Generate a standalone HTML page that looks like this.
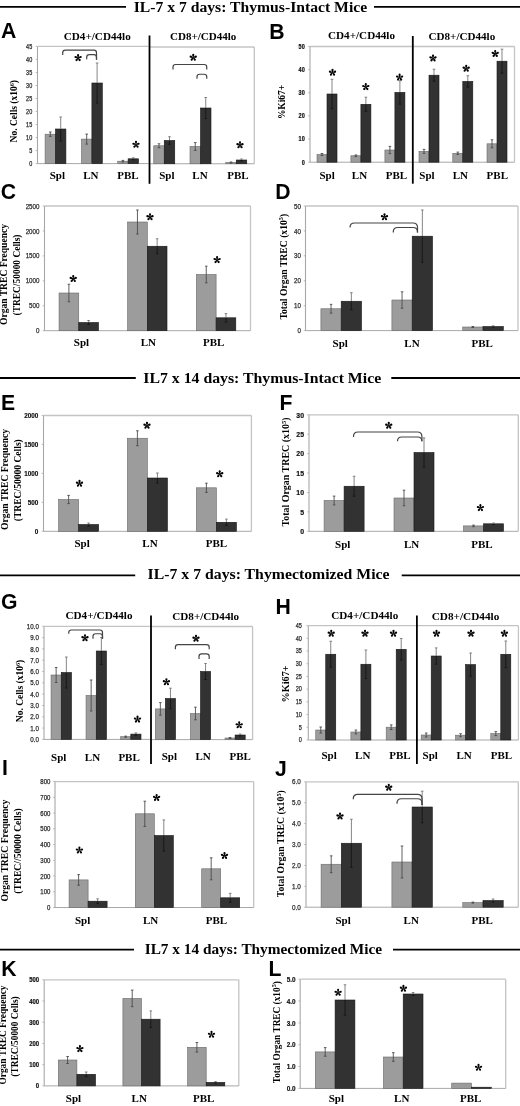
<!DOCTYPE html>
<html><head><meta charset="utf-8"><title>Figure</title>
<style>
html,body{margin:0;padding:0;background:#fff;width:520px;height:1106px;overflow:hidden;}
svg{display:block;will-change:transform;}
</style></head>
<body>
<svg width="520" height="1106" viewBox="0 0 520 1106">
<rect x="0" y="0" width="520" height="1106" fill="#fff"/>
<line x1="0" y1="6.8" x2="126" y2="6.8" stroke="#000" stroke-width="1.8"/>
<text x="133.7" y="12.1" font-family='"Liberation Serif", serif' font-size="14.6" font-weight="bold" text-anchor="start" fill="#000" textLength="233.5" lengthAdjust="spacingAndGlyphs">IL-7 x 7 days: Thymus-Intact Mice</text>
<line x1="374" y1="6.8" x2="520" y2="6.8" stroke="#000" stroke-width="1.8"/>
<line x1="0" y1="378" x2="135.8" y2="378" stroke="#000" stroke-width="1.8"/>
<text x="143.3" y="382.9" font-family='"Liberation Serif", serif' font-size="14.6" font-weight="bold" text-anchor="start" fill="#000" textLength="237.9" lengthAdjust="spacingAndGlyphs">IL7 x 14 days: Thymus-Intact Mice</text>
<line x1="391.3" y1="378" x2="520" y2="378" stroke="#000" stroke-width="1.8"/>
<line x1="0" y1="575.4" x2="135.2" y2="575.4" stroke="#000" stroke-width="1.8"/>
<text x="147.6" y="579.4" font-family='"Liberation Serif", serif' font-size="14.6" font-weight="bold" text-anchor="start" fill="#000" textLength="242" lengthAdjust="spacingAndGlyphs">IL-7 x 7 days: Thymectomized Mice</text>
<line x1="401.7" y1="575.4" x2="520" y2="575.4" stroke="#000" stroke-width="1.8"/>
<line x1="0" y1="949.6" x2="134" y2="949.6" stroke="#000" stroke-width="1.8"/>
<text x="144.7" y="953.7" font-family='"Liberation Serif", serif' font-size="14.6" font-weight="bold" text-anchor="start" fill="#000" textLength="237.4" lengthAdjust="spacingAndGlyphs">IL7 x 14 days: Thymectomized Mice</text>
<line x1="393" y1="949.6" x2="520" y2="949.6" stroke="#000" stroke-width="1.8"/>
<text x="1" y="38.1" font-family='"Liberation Sans", sans-serif' font-size="21.2" font-weight="bold" text-anchor="start" fill="#000">A</text>
<text x="269.2" y="39.2" font-family='"Liberation Sans", sans-serif' font-size="21.2" font-weight="bold" text-anchor="start" fill="#000">B</text>
<text x="0.8" y="199.3" font-family='"Liberation Sans", sans-serif' font-size="21.2" font-weight="bold" text-anchor="start" fill="#000">C</text>
<text x="275.2" y="199.2" font-family='"Liberation Sans", sans-serif' font-size="21.2" font-weight="bold" text-anchor="start" fill="#000">D</text>
<text x="0.9" y="410.4" font-family='"Liberation Sans", sans-serif' font-size="21.2" font-weight="bold" text-anchor="start" fill="#000">E</text>
<text x="279.5" y="409.6" font-family='"Liberation Sans", sans-serif' font-size="21.2" font-weight="bold" text-anchor="start" fill="#000">F</text>
<text x="0.9" y="608.5" font-family='"Liberation Sans", sans-serif' font-size="21.2" font-weight="bold" text-anchor="start" fill="#000">G</text>
<text x="275.4" y="614" font-family='"Liberation Sans", sans-serif' font-size="21.2" font-weight="bold" text-anchor="start" fill="#000">H</text>
<text x="2" y="774.8" font-family='"Liberation Sans", sans-serif' font-size="21.2" font-weight="bold" text-anchor="start" fill="#000">I</text>
<text x="275" y="776" font-family='"Liberation Sans", sans-serif' font-size="21.2" font-weight="bold" text-anchor="start" fill="#000">J</text>
<text x="1.2" y="976.2" font-family='"Liberation Sans", sans-serif' font-size="21.2" font-weight="bold" text-anchor="start" fill="#000">K</text>
<text x="268.6" y="976.2" font-family='"Liberation Sans", sans-serif' font-size="21.2" font-weight="bold" text-anchor="start" fill="#000">L</text>
<line x1="37.5" y1="46.4" x2="37.5" y2="163.6" stroke="#a8a8a8" stroke-width="1.1"/>
<line x1="35.7" y1="163.6" x2="37.5" y2="163.6" stroke="#a8a8a8" stroke-width="0.8"/>
<text x="32.2" y="165.9" font-family='"Liberation Sans", sans-serif' font-size="6.4" font-weight="normal" text-anchor="end" fill="#2a2a2a" textLength="3.06" lengthAdjust="spacingAndGlyphs" stroke="#2a2a2a" stroke-width="0.25">0</text>
<line x1="35.7" y1="150.58" x2="37.5" y2="150.58" stroke="#a8a8a8" stroke-width="0.8"/>
<text x="32.2" y="152.88" font-family='"Liberation Sans", sans-serif' font-size="6.4" font-weight="normal" text-anchor="end" fill="#2a2a2a" textLength="3.06" lengthAdjust="spacingAndGlyphs" stroke="#2a2a2a" stroke-width="0.25">5</text>
<line x1="35.7" y1="137.56" x2="37.5" y2="137.56" stroke="#a8a8a8" stroke-width="0.8"/>
<text x="32.2" y="139.86" font-family='"Liberation Sans", sans-serif' font-size="6.4" font-weight="normal" text-anchor="end" fill="#2a2a2a" textLength="6.12" lengthAdjust="spacingAndGlyphs" stroke="#2a2a2a" stroke-width="0.25">10</text>
<line x1="35.7" y1="124.53" x2="37.5" y2="124.53" stroke="#a8a8a8" stroke-width="0.8"/>
<text x="32.2" y="126.84" font-family='"Liberation Sans", sans-serif' font-size="6.4" font-weight="normal" text-anchor="end" fill="#2a2a2a" textLength="6.12" lengthAdjust="spacingAndGlyphs" stroke="#2a2a2a" stroke-width="0.25">15</text>
<line x1="35.7" y1="111.51" x2="37.5" y2="111.51" stroke="#a8a8a8" stroke-width="0.8"/>
<text x="32.2" y="113.82" font-family='"Liberation Sans", sans-serif' font-size="6.4" font-weight="normal" text-anchor="end" fill="#2a2a2a" textLength="6.12" lengthAdjust="spacingAndGlyphs" stroke="#2a2a2a" stroke-width="0.25">20</text>
<line x1="35.7" y1="98.49" x2="37.5" y2="98.49" stroke="#a8a8a8" stroke-width="0.8"/>
<text x="32.2" y="100.79" font-family='"Liberation Sans", sans-serif' font-size="6.4" font-weight="normal" text-anchor="end" fill="#2a2a2a" textLength="6.12" lengthAdjust="spacingAndGlyphs" stroke="#2a2a2a" stroke-width="0.25">25</text>
<line x1="35.7" y1="85.47" x2="37.5" y2="85.47" stroke="#a8a8a8" stroke-width="0.8"/>
<text x="32.2" y="87.77" font-family='"Liberation Sans", sans-serif' font-size="6.4" font-weight="normal" text-anchor="end" fill="#2a2a2a" textLength="6.12" lengthAdjust="spacingAndGlyphs" stroke="#2a2a2a" stroke-width="0.25">30</text>
<line x1="35.7" y1="72.44" x2="37.5" y2="72.44" stroke="#a8a8a8" stroke-width="0.8"/>
<text x="32.2" y="74.75" font-family='"Liberation Sans", sans-serif' font-size="6.4" font-weight="normal" text-anchor="end" fill="#2a2a2a" textLength="6.12" lengthAdjust="spacingAndGlyphs" stroke="#2a2a2a" stroke-width="0.25">35</text>
<line x1="35.7" y1="59.42" x2="37.5" y2="59.42" stroke="#a8a8a8" stroke-width="0.8"/>
<text x="32.2" y="61.73" font-family='"Liberation Sans", sans-serif' font-size="6.4" font-weight="normal" text-anchor="end" fill="#2a2a2a" textLength="6.12" lengthAdjust="spacingAndGlyphs" stroke="#2a2a2a" stroke-width="0.25">40</text>
<line x1="35.7" y1="46.4" x2="37.5" y2="46.4" stroke="#a8a8a8" stroke-width="0.8"/>
<text x="32.2" y="48.7" font-family='"Liberation Sans", sans-serif' font-size="6.4" font-weight="normal" text-anchor="end" fill="#2a2a2a" textLength="6.12" lengthAdjust="spacingAndGlyphs" stroke="#2a2a2a" stroke-width="0.25">45</text>
<line x1="37.5" y1="46.4" x2="148.5" y2="46.4" stroke="#c4c4c4" stroke-width="1.3"/>
<line x1="37.5" y1="163.6" x2="148.5" y2="163.6" stroke="#a8a8a8" stroke-width="1"/>
<rect x="45.1" y="134.2" width="10.4" height="29.4" fill="#9c9c9c" stroke="#6a6a6a" stroke-width="0.6"/>
<rect x="55.5" y="129" width="10.4" height="34.6" fill="#323232" stroke="#151515" stroke-width="0.6"/>
<line x1="50.3" y1="132" x2="50.3" y2="134.2" stroke="#444" stroke-width="0.85"/>
<line x1="50.3" y1="134.2" x2="50.3" y2="136.4" stroke="#474747" stroke-width="0.85"/>
<line x1="49" y1="132" x2="51.6" y2="132" stroke="#444" stroke-width="0.85"/>
<line x1="49" y1="136.4" x2="51.6" y2="136.4" stroke="#474747" stroke-width="0.85"/>
<line x1="60.7" y1="117" x2="60.7" y2="129" stroke="#707070" stroke-width="0.85"/>
<line x1="60.7" y1="129" x2="60.7" y2="141" stroke="#141414" stroke-width="0.85"/>
<line x1="59.4" y1="117" x2="62" y2="117" stroke="#707070" stroke-width="0.85"/>
<line x1="59.4" y1="141" x2="62" y2="141" stroke="#141414" stroke-width="0.85"/>
<rect x="81.5" y="139.1" width="10.4" height="24.5" fill="#9c9c9c" stroke="#6a6a6a" stroke-width="0.6"/>
<rect x="91.9" y="83" width="10.4" height="80.6" fill="#323232" stroke="#151515" stroke-width="0.6"/>
<line x1="86.7" y1="134.1" x2="86.7" y2="139.1" stroke="#444" stroke-width="0.85"/>
<line x1="86.7" y1="139.1" x2="86.7" y2="144.1" stroke="#474747" stroke-width="0.85"/>
<line x1="85.4" y1="134.1" x2="88" y2="134.1" stroke="#444" stroke-width="0.85"/>
<line x1="85.4" y1="144.1" x2="88" y2="144.1" stroke="#474747" stroke-width="0.85"/>
<line x1="97.1" y1="63" x2="97.1" y2="83" stroke="#707070" stroke-width="0.85"/>
<line x1="97.1" y1="83" x2="97.1" y2="103" stroke="#141414" stroke-width="0.85"/>
<line x1="95.8" y1="63" x2="98.4" y2="63" stroke="#707070" stroke-width="0.85"/>
<line x1="95.8" y1="103" x2="98.4" y2="103" stroke="#141414" stroke-width="0.85"/>
<rect x="117.7" y="161.2" width="10.4" height="2.4" fill="#9c9c9c" stroke="#6a6a6a" stroke-width="0.6"/>
<rect x="128.1" y="158.8" width="10.4" height="4.8" fill="#323232" stroke="#151515" stroke-width="0.6"/>
<line x1="122.9" y1="160.4" x2="122.9" y2="161.2" stroke="#444" stroke-width="0.85"/>
<line x1="122.9" y1="161.2" x2="122.9" y2="162" stroke="#474747" stroke-width="0.85"/>
<line x1="121.6" y1="160.4" x2="124.2" y2="160.4" stroke="#444" stroke-width="0.85"/>
<line x1="121.6" y1="162" x2="124.2" y2="162" stroke="#474747" stroke-width="0.85"/>
<line x1="133.3" y1="157.8" x2="133.3" y2="158.8" stroke="#707070" stroke-width="0.85"/>
<line x1="133.3" y1="158.8" x2="133.3" y2="159.8" stroke="#141414" stroke-width="0.85"/>
<line x1="132" y1="157.8" x2="134.6" y2="157.8" stroke="#707070" stroke-width="0.85"/>
<line x1="132" y1="159.8" x2="134.6" y2="159.8" stroke="#141414" stroke-width="0.85"/>
<path d="M62.7 55 L62.7 52.8 Q62.7 50.2 65.3 50.2 L93.9 50.2 Q96.5 50.2 96.5 52.8 L96.5 59.8" fill="none" stroke="#444444" stroke-width="1.2"/>
<path d="M86.7 59.3 L86.7 57.3 Q86.7 54.7 89.3 54.7 L93.9 54.7 Q96.5 54.7 96.5 57.3 L96.5 59.8" fill="none" stroke="#444444" stroke-width="1.2"/>
<g fill="#000"><path d="M78.38 57.9 L79.08 55.52 L77.12 55.52 L77.82 57.9 Z"/><circle cx="78.1" cy="55.15" r="1.05"/><path d="M78.19 58.17 L80.67 58.09 L80.06 56.24 L78.01 57.63 Z"/><circle cx="80.72" cy="57.05" r="1.05"/><path d="M77.87 58.06 L78.71 60.4 L80.29 59.25 L78.33 57.74 Z"/><circle cx="79.72" cy="60.12" r="1.05"/><path d="M77.87 57.74 L75.91 59.25 L77.49 60.4 L78.33 58.06 Z"/><circle cx="76.48" cy="60.12" r="1.05"/><path d="M78.19 57.63 L76.14 56.24 L75.53 58.09 L78.01 58.17 Z"/><circle cx="75.48" cy="57.05" r="1.05"/></g>
<g fill="#000"><path d="M136.28 144.6 L136.98 142.22 L135.02 142.22 L135.72 144.6 Z"/><circle cx="136" cy="141.85" r="1.05"/><path d="M136.09 144.87 L138.57 144.79 L137.96 142.94 L135.91 144.33 Z"/><circle cx="138.62" cy="143.75" r="1.05"/><path d="M135.77 144.76 L136.61 147.1 L138.19 145.95 L136.23 144.44 Z"/><circle cx="137.62" cy="146.82" r="1.05"/><path d="M135.77 144.44 L133.81 145.95 L135.39 147.1 L136.23 144.76 Z"/><circle cx="134.38" cy="146.82" r="1.05"/><path d="M136.09 144.33 L134.04 142.94 L133.43 144.79 L135.91 144.87 Z"/><circle cx="133.38" cy="143.75" r="1.05"/></g>
<text x="63.75" y="40.3" font-family='"Liberation Serif", serif' font-size="11.4" font-weight="bold" text-anchor="start" fill="#000" textLength="67" lengthAdjust="spacingAndGlyphs">CD4+/CD44lo</text>
<text x="57.3" y="179" font-family='"Liberation Serif", serif' font-size="11" font-weight="bold" text-anchor="middle" fill="#000">Spl</text>
<text x="90.9" y="179" font-family='"Liberation Serif", serif' font-size="11" font-weight="bold" text-anchor="middle" fill="#000">LN</text>
<text x="127.9" y="179" font-family='"Liberation Serif", serif' font-size="11" font-weight="bold" text-anchor="middle" fill="#000">PBL</text>
<text transform="translate(17.14 111.2) rotate(-90)" x="0" y="0" font-family='"Liberation Serif", serif' font-size="9.5" font-weight="bold" text-anchor="middle" fill="#000">No. Cells (x10<tspan font-size="65%" dy="-3.2">6</tspan><tspan dy="3.2">)</tspan></text>
<line x1="149.5" y1="47" x2="254.3" y2="47" stroke="#c4c4c4" stroke-width="1.3"/>
<line x1="254.3" y1="47" x2="254.3" y2="163.75" stroke="#c4c4c4" stroke-width="1.3"/>
<line x1="149.5" y1="163.75" x2="254.3" y2="163.75" stroke="#a8a8a8" stroke-width="1"/>
<rect x="153.75" y="145.75" width="10.5" height="18" fill="#9c9c9c" stroke="#6a6a6a" stroke-width="0.6"/>
<rect x="164.25" y="140.5" width="10.5" height="23.25" fill="#323232" stroke="#151515" stroke-width="0.6"/>
<line x1="159" y1="143.75" x2="159" y2="145.75" stroke="#444" stroke-width="0.85"/>
<line x1="159" y1="145.75" x2="159" y2="147.75" stroke="#474747" stroke-width="0.85"/>
<line x1="157.7" y1="143.75" x2="160.3" y2="143.75" stroke="#444" stroke-width="0.85"/>
<line x1="157.7" y1="147.75" x2="160.3" y2="147.75" stroke="#474747" stroke-width="0.85"/>
<line x1="169.5" y1="136.75" x2="169.5" y2="140.5" stroke="#707070" stroke-width="0.85"/>
<line x1="169.5" y1="140.5" x2="169.5" y2="144.25" stroke="#141414" stroke-width="0.85"/>
<line x1="168.2" y1="136.75" x2="170.8" y2="136.75" stroke="#707070" stroke-width="0.85"/>
<line x1="168.2" y1="144.25" x2="170.8" y2="144.25" stroke="#141414" stroke-width="0.85"/>
<rect x="190" y="146.5" width="10.5" height="17.25" fill="#9c9c9c" stroke="#6a6a6a" stroke-width="0.6"/>
<rect x="200.5" y="108" width="10.5" height="55.75" fill="#323232" stroke="#151515" stroke-width="0.6"/>
<line x1="195.25" y1="142.6" x2="195.25" y2="146.5" stroke="#444" stroke-width="0.85"/>
<line x1="195.25" y1="146.5" x2="195.25" y2="150.4" stroke="#474747" stroke-width="0.85"/>
<line x1="193.95" y1="142.6" x2="196.55" y2="142.6" stroke="#444" stroke-width="0.85"/>
<line x1="193.95" y1="150.4" x2="196.55" y2="150.4" stroke="#474747" stroke-width="0.85"/>
<line x1="205.75" y1="97.5" x2="205.75" y2="108" stroke="#707070" stroke-width="0.85"/>
<line x1="205.75" y1="108" x2="205.75" y2="118.5" stroke="#141414" stroke-width="0.85"/>
<line x1="204.45" y1="97.5" x2="207.05" y2="97.5" stroke="#707070" stroke-width="0.85"/>
<line x1="204.45" y1="118.5" x2="207.05" y2="118.5" stroke="#141414" stroke-width="0.85"/>
<rect x="225.75" y="162.5" width="10.5" height="1.25" fill="#9c9c9c" stroke="#6a6a6a" stroke-width="0.6"/>
<rect x="236.25" y="160" width="10.5" height="3.75" fill="#323232" stroke="#151515" stroke-width="0.6"/>
<line x1="231" y1="162" x2="231" y2="162.5" stroke="#444" stroke-width="0.85"/>
<line x1="231" y1="162.5" x2="231" y2="163" stroke="#474747" stroke-width="0.85"/>
<line x1="229.7" y1="162" x2="232.3" y2="162" stroke="#444" stroke-width="0.85"/>
<line x1="229.7" y1="163" x2="232.3" y2="163" stroke="#474747" stroke-width="0.85"/>
<line x1="241.5" y1="159" x2="241.5" y2="160" stroke="#707070" stroke-width="0.85"/>
<line x1="241.5" y1="160" x2="241.5" y2="161" stroke="#141414" stroke-width="0.85"/>
<line x1="240.2" y1="159" x2="242.8" y2="159" stroke="#707070" stroke-width="0.85"/>
<line x1="240.2" y1="161" x2="242.8" y2="161" stroke="#141414" stroke-width="0.85"/>
<path d="M173 69.5 L173 67.1 Q173 64.5 175.6 64.5 L204.15 64.5 Q206.75 64.5 206.75 67.1 L206.75 69.5" fill="none" stroke="#444444" stroke-width="1.2"/>
<path d="M197 78.75 L197 76.85 Q197 74.25 199.6 74.25 L204.15 74.25 Q206.75 74.25 206.75 76.85 L206.75 78.75" fill="none" stroke="#444444" stroke-width="1.2"/>
<g fill="#000"><path d="M193.53 57.5 L194.23 55.12 L192.27 55.12 L192.97 57.5 Z"/><circle cx="193.25" cy="54.75" r="1.05"/><path d="M193.34 57.77 L195.82 57.69 L195.21 55.84 L193.16 57.23 Z"/><circle cx="195.87" cy="56.65" r="1.05"/><path d="M193.02 57.66 L193.86 60 L195.44 58.85 L193.48 57.34 Z"/><circle cx="194.87" cy="59.72" r="1.05"/><path d="M193.02 57.34 L191.06 58.85 L192.64 60 L193.48 57.66 Z"/><circle cx="191.63" cy="59.72" r="1.05"/><path d="M193.34 57.23 L191.29 55.84 L190.68 57.69 L193.16 57.77 Z"/><circle cx="190.63" cy="56.65" r="1.05"/></g>
<g fill="#000"><path d="M240.28 145 L240.98 142.62 L239.02 142.62 L239.72 145 Z"/><circle cx="240" cy="142.25" r="1.05"/><path d="M240.09 145.27 L242.57 145.19 L241.96 143.34 L239.91 144.73 Z"/><circle cx="242.62" cy="144.15" r="1.05"/><path d="M239.77 145.16 L240.61 147.5 L242.19 146.35 L240.23 144.84 Z"/><circle cx="241.62" cy="147.22" r="1.05"/><path d="M239.77 144.84 L237.81 146.35 L239.39 147.5 L240.23 145.16 Z"/><circle cx="238.38" cy="147.22" r="1.05"/><path d="M240.09 144.73 L238.04 143.34 L237.43 145.19 L239.91 145.27 Z"/><circle cx="237.38" cy="144.15" r="1.05"/></g>
<text x="170" y="39.8" font-family='"Liberation Serif", serif' font-size="11.4" font-weight="bold" text-anchor="start" fill="#000" textLength="66.3" lengthAdjust="spacingAndGlyphs">CD8+/CD44lo</text>
<text x="166.8" y="178.8" font-family='"Liberation Serif", serif' font-size="11" font-weight="bold" text-anchor="middle" fill="#000">Spl</text>
<text x="200" y="178.8" font-family='"Liberation Serif", serif' font-size="11" font-weight="bold" text-anchor="middle" fill="#000">LN</text>
<text x="238" y="178.8" font-family='"Liberation Serif", serif' font-size="11" font-weight="bold" text-anchor="middle" fill="#000">PBL</text>
<line x1="149.5" y1="35.5" x2="149.5" y2="183.8" stroke="#000" stroke-width="1.8"/>
<line x1="310" y1="46.5" x2="310" y2="162.2" stroke="#a8a8a8" stroke-width="1.1"/>
<line x1="308.2" y1="162.2" x2="310" y2="162.2" stroke="#a8a8a8" stroke-width="0.8"/>
<text x="304.7" y="164.5" font-family='"Liberation Sans", sans-serif' font-size="6.4" font-weight="bold" text-anchor="end" fill="#111" textLength="3.06" lengthAdjust="spacingAndGlyphs" stroke="#111" stroke-width="0.2">0</text>
<line x1="308.2" y1="139.06" x2="310" y2="139.06" stroke="#a8a8a8" stroke-width="0.8"/>
<text x="304.7" y="141.36" font-family='"Liberation Sans", sans-serif' font-size="6.4" font-weight="bold" text-anchor="end" fill="#111" textLength="6.12" lengthAdjust="spacingAndGlyphs" stroke="#111" stroke-width="0.2">10</text>
<line x1="308.2" y1="115.92" x2="310" y2="115.92" stroke="#a8a8a8" stroke-width="0.8"/>
<text x="304.7" y="118.22" font-family='"Liberation Sans", sans-serif' font-size="6.4" font-weight="bold" text-anchor="end" fill="#111" textLength="6.12" lengthAdjust="spacingAndGlyphs" stroke="#111" stroke-width="0.2">20</text>
<line x1="308.2" y1="92.78" x2="310" y2="92.78" stroke="#a8a8a8" stroke-width="0.8"/>
<text x="304.7" y="95.08" font-family='"Liberation Sans", sans-serif' font-size="6.4" font-weight="bold" text-anchor="end" fill="#111" textLength="6.12" lengthAdjust="spacingAndGlyphs" stroke="#111" stroke-width="0.2">30</text>
<line x1="308.2" y1="69.64" x2="310" y2="69.64" stroke="#a8a8a8" stroke-width="0.8"/>
<text x="304.7" y="71.94" font-family='"Liberation Sans", sans-serif' font-size="6.4" font-weight="bold" text-anchor="end" fill="#111" textLength="6.12" lengthAdjust="spacingAndGlyphs" stroke="#111" stroke-width="0.2">40</text>
<line x1="308.2" y1="46.5" x2="310" y2="46.5" stroke="#a8a8a8" stroke-width="0.8"/>
<text x="304.7" y="48.8" font-family='"Liberation Sans", sans-serif' font-size="6.4" font-weight="bold" text-anchor="end" fill="#111" textLength="6.12" lengthAdjust="spacingAndGlyphs" stroke="#111" stroke-width="0.2">50</text>
<line x1="310" y1="46.5" x2="514.5" y2="46.5" stroke="#c4c4c4" stroke-width="1.3"/>
<line x1="514.5" y1="46.5" x2="514.5" y2="162.2" stroke="#c4c4c4" stroke-width="1.3"/>
<line x1="310" y1="162.2" x2="514.5" y2="162.2" stroke="#a8a8a8" stroke-width="1"/>
<rect x="317" y="154.5" width="10" height="7.7" fill="#9c9c9c" stroke="#6a6a6a" stroke-width="0.6"/>
<rect x="327" y="94" width="10" height="68.2" fill="#323232" stroke="#151515" stroke-width="0.6"/>
<line x1="322" y1="153.5" x2="322" y2="154.5" stroke="#444" stroke-width="0.85"/>
<line x1="322" y1="154.5" x2="322" y2="155.5" stroke="#474747" stroke-width="0.85"/>
<line x1="320.7" y1="153.5" x2="323.3" y2="153.5" stroke="#444" stroke-width="0.85"/>
<line x1="320.7" y1="155.5" x2="323.3" y2="155.5" stroke="#474747" stroke-width="0.85"/>
<line x1="332" y1="79.3" x2="332" y2="94" stroke="#707070" stroke-width="0.85"/>
<line x1="332" y1="94" x2="332" y2="108.7" stroke="#141414" stroke-width="0.85"/>
<line x1="330.7" y1="79.3" x2="333.3" y2="79.3" stroke="#707070" stroke-width="0.85"/>
<line x1="330.7" y1="108.7" x2="333.3" y2="108.7" stroke="#141414" stroke-width="0.85"/>
<rect x="350.9" y="155.75" width="10" height="6.45" fill="#9c9c9c" stroke="#6a6a6a" stroke-width="0.6"/>
<rect x="360.9" y="104.3" width="10" height="57.9" fill="#323232" stroke="#151515" stroke-width="0.6"/>
<line x1="355.9" y1="154.95" x2="355.9" y2="155.75" stroke="#444" stroke-width="0.85"/>
<line x1="355.9" y1="155.75" x2="355.9" y2="156.55" stroke="#474747" stroke-width="0.85"/>
<line x1="354.6" y1="154.95" x2="357.2" y2="154.95" stroke="#444" stroke-width="0.85"/>
<line x1="354.6" y1="156.55" x2="357.2" y2="156.55" stroke="#474747" stroke-width="0.85"/>
<line x1="365.9" y1="97.2" x2="365.9" y2="104.3" stroke="#707070" stroke-width="0.85"/>
<line x1="365.9" y1="104.3" x2="365.9" y2="111.4" stroke="#141414" stroke-width="0.85"/>
<line x1="364.6" y1="97.2" x2="367.2" y2="97.2" stroke="#707070" stroke-width="0.85"/>
<line x1="364.6" y1="111.4" x2="367.2" y2="111.4" stroke="#141414" stroke-width="0.85"/>
<rect x="384.9" y="150" width="10" height="12.2" fill="#9c9c9c" stroke="#6a6a6a" stroke-width="0.6"/>
<rect x="394.9" y="92.4" width="10" height="69.8" fill="#323232" stroke="#151515" stroke-width="0.6"/>
<line x1="389.9" y1="146.4" x2="389.9" y2="150" stroke="#444" stroke-width="0.85"/>
<line x1="389.9" y1="150" x2="389.9" y2="153.6" stroke="#474747" stroke-width="0.85"/>
<line x1="388.6" y1="146.4" x2="391.2" y2="146.4" stroke="#444" stroke-width="0.85"/>
<line x1="388.6" y1="153.6" x2="391.2" y2="153.6" stroke="#474747" stroke-width="0.85"/>
<line x1="399.9" y1="80.7" x2="399.9" y2="92.4" stroke="#707070" stroke-width="0.85"/>
<line x1="399.9" y1="92.4" x2="399.9" y2="104.1" stroke="#141414" stroke-width="0.85"/>
<line x1="398.6" y1="80.7" x2="401.2" y2="80.7" stroke="#707070" stroke-width="0.85"/>
<line x1="398.6" y1="104.1" x2="401.2" y2="104.1" stroke="#141414" stroke-width="0.85"/>
<rect x="419" y="151.4" width="10" height="10.8" fill="#9c9c9c" stroke="#6a6a6a" stroke-width="0.6"/>
<rect x="429" y="75.2" width="10" height="87" fill="#323232" stroke="#151515" stroke-width="0.6"/>
<line x1="424" y1="149.4" x2="424" y2="151.4" stroke="#444" stroke-width="0.85"/>
<line x1="424" y1="151.4" x2="424" y2="153.4" stroke="#474747" stroke-width="0.85"/>
<line x1="422.7" y1="149.4" x2="425.3" y2="149.4" stroke="#444" stroke-width="0.85"/>
<line x1="422.7" y1="153.4" x2="425.3" y2="153.4" stroke="#474747" stroke-width="0.85"/>
<line x1="434" y1="69.2" x2="434" y2="75.2" stroke="#707070" stroke-width="0.85"/>
<line x1="434" y1="75.2" x2="434" y2="81.2" stroke="#141414" stroke-width="0.85"/>
<line x1="432.7" y1="69.2" x2="435.3" y2="69.2" stroke="#707070" stroke-width="0.85"/>
<line x1="432.7" y1="81.2" x2="435.3" y2="81.2" stroke="#141414" stroke-width="0.85"/>
<rect x="452.8" y="153.3" width="10" height="8.9" fill="#9c9c9c" stroke="#6a6a6a" stroke-width="0.6"/>
<rect x="462.8" y="81.4" width="10" height="80.8" fill="#323232" stroke="#151515" stroke-width="0.6"/>
<line x1="457.8" y1="152.1" x2="457.8" y2="153.3" stroke="#444" stroke-width="0.85"/>
<line x1="457.8" y1="153.3" x2="457.8" y2="154.5" stroke="#474747" stroke-width="0.85"/>
<line x1="456.5" y1="152.1" x2="459.1" y2="152.1" stroke="#444" stroke-width="0.85"/>
<line x1="456.5" y1="154.5" x2="459.1" y2="154.5" stroke="#474747" stroke-width="0.85"/>
<line x1="467.8" y1="75.7" x2="467.8" y2="81.4" stroke="#707070" stroke-width="0.85"/>
<line x1="467.8" y1="81.4" x2="467.8" y2="87.1" stroke="#141414" stroke-width="0.85"/>
<line x1="466.5" y1="75.7" x2="469.1" y2="75.7" stroke="#707070" stroke-width="0.85"/>
<line x1="466.5" y1="87.1" x2="469.1" y2="87.1" stroke="#141414" stroke-width="0.85"/>
<rect x="487" y="143.8" width="10" height="18.4" fill="#9c9c9c" stroke="#6a6a6a" stroke-width="0.6"/>
<rect x="497" y="61.2" width="10" height="101" fill="#323232" stroke="#151515" stroke-width="0.6"/>
<line x1="492" y1="139.8" x2="492" y2="143.8" stroke="#444" stroke-width="0.85"/>
<line x1="492" y1="143.8" x2="492" y2="147.8" stroke="#474747" stroke-width="0.85"/>
<line x1="490.7" y1="139.8" x2="493.3" y2="139.8" stroke="#444" stroke-width="0.85"/>
<line x1="490.7" y1="147.8" x2="493.3" y2="147.8" stroke="#474747" stroke-width="0.85"/>
<line x1="502" y1="49.2" x2="502" y2="61.2" stroke="#707070" stroke-width="0.85"/>
<line x1="502" y1="61.2" x2="502" y2="73.2" stroke="#141414" stroke-width="0.85"/>
<line x1="500.7" y1="49.2" x2="503.3" y2="49.2" stroke="#707070" stroke-width="0.85"/>
<line x1="500.7" y1="73.2" x2="503.3" y2="73.2" stroke="#141414" stroke-width="0.85"/>
<g fill="#000"><path d="M332.78 72.5 L333.48 70.12 L331.52 70.12 L332.22 72.5 Z"/><circle cx="332.5" cy="69.75" r="1.05"/><path d="M332.59 72.77 L335.07 72.69 L334.46 70.84 L332.41 72.23 Z"/><circle cx="335.12" cy="71.65" r="1.05"/><path d="M332.27 72.66 L333.11 75 L334.69 73.85 L332.73 72.34 Z"/><circle cx="334.12" cy="74.72" r="1.05"/><path d="M332.27 72.34 L330.31 73.85 L331.89 75 L332.73 72.66 Z"/><circle cx="330.88" cy="74.72" r="1.05"/><path d="M332.59 72.23 L330.54 70.84 L329.93 72.69 L332.41 72.77 Z"/><circle cx="329.88" cy="71.65" r="1.05"/></g>
<g fill="#000"><path d="M366.08 86.9 L366.78 84.52 L364.82 84.52 L365.52 86.9 Z"/><circle cx="365.8" cy="84.15" r="1.05"/><path d="M365.89 87.17 L368.37 87.09 L367.76 85.24 L365.71 86.63 Z"/><circle cx="368.42" cy="86.05" r="1.05"/><path d="M365.57 87.06 L366.41 89.4 L367.99 88.25 L366.03 86.74 Z"/><circle cx="367.42" cy="89.12" r="1.05"/><path d="M365.57 86.74 L363.61 88.25 L365.19 89.4 L366.03 87.06 Z"/><circle cx="364.18" cy="89.12" r="1.05"/><path d="M365.89 86.63 L363.84 85.24 L363.23 87.09 L365.71 87.17 Z"/><circle cx="363.18" cy="86.05" r="1.05"/></g>
<g fill="#000"><path d="M399.88 77.4 L400.58 75.02 L398.62 75.02 L399.32 77.4 Z"/><circle cx="399.6" cy="74.65" r="1.05"/><path d="M399.69 77.67 L402.17 77.59 L401.56 75.74 L399.51 77.13 Z"/><circle cx="402.22" cy="76.55" r="1.05"/><path d="M399.37 77.56 L400.21 79.9 L401.79 78.75 L399.83 77.24 Z"/><circle cx="401.22" cy="79.62" r="1.05"/><path d="M399.37 77.24 L397.41 78.75 L398.99 79.9 L399.83 77.56 Z"/><circle cx="397.98" cy="79.62" r="1.05"/><path d="M399.69 77.13 L397.64 75.74 L397.03 77.59 L399.51 77.67 Z"/><circle cx="396.98" cy="76.55" r="1.05"/></g>
<g fill="#000"><path d="M433.28 58.2 L433.98 55.82 L432.02 55.82 L432.72 58.2 Z"/><circle cx="433" cy="55.45" r="1.05"/><path d="M433.09 58.47 L435.57 58.39 L434.96 56.54 L432.91 57.93 Z"/><circle cx="435.62" cy="57.35" r="1.05"/><path d="M432.77 58.36 L433.61 60.7 L435.19 59.55 L433.23 58.04 Z"/><circle cx="434.62" cy="60.42" r="1.05"/><path d="M432.77 58.04 L430.81 59.55 L432.39 60.7 L433.23 58.36 Z"/><circle cx="431.38" cy="60.42" r="1.05"/><path d="M433.09 57.93 L431.04 56.54 L430.43 58.39 L432.91 58.47 Z"/><circle cx="430.38" cy="57.35" r="1.05"/></g>
<g fill="#000"><path d="M466.48 68.5 L467.18 66.12 L465.22 66.12 L465.92 68.5 Z"/><circle cx="466.2" cy="65.75" r="1.05"/><path d="M466.29 68.77 L468.77 68.69 L468.16 66.84 L466.11 68.23 Z"/><circle cx="468.82" cy="67.65" r="1.05"/><path d="M465.97 68.66 L466.81 71 L468.39 69.85 L466.43 68.34 Z"/><circle cx="467.82" cy="70.72" r="1.05"/><path d="M465.97 68.34 L464.01 69.85 L465.59 71 L466.43 68.66 Z"/><circle cx="464.58" cy="70.72" r="1.05"/><path d="M466.29 68.23 L464.24 66.84 L463.63 68.69 L466.11 68.77 Z"/><circle cx="463.58" cy="67.65" r="1.05"/></g>
<g fill="#000"><path d="M495.48 53.7 L496.18 51.32 L494.22 51.32 L494.92 53.7 Z"/><circle cx="495.2" cy="50.95" r="1.05"/><path d="M495.29 53.97 L497.77 53.89 L497.16 52.04 L495.11 53.43 Z"/><circle cx="497.82" cy="52.85" r="1.05"/><path d="M494.97 53.86 L495.81 56.2 L497.39 55.05 L495.43 53.54 Z"/><circle cx="496.82" cy="55.92" r="1.05"/><path d="M494.97 53.54 L493.01 55.05 L494.59 56.2 L495.43 53.86 Z"/><circle cx="493.58" cy="55.92" r="1.05"/><path d="M495.29 53.43 L493.24 52.04 L492.63 53.89 L495.11 53.97 Z"/><circle cx="492.58" cy="52.85" r="1.05"/></g>
<text x="328" y="39.4" font-family='"Liberation Serif", serif' font-size="11.4" font-weight="bold" text-anchor="start" fill="#000" textLength="67" lengthAdjust="spacingAndGlyphs">CD4+/CD44lo</text>
<text x="428.5" y="40" font-family='"Liberation Serif", serif' font-size="11.4" font-weight="bold" text-anchor="start" fill="#000" textLength="66.7" lengthAdjust="spacingAndGlyphs">CD8+/CD44lo</text>
<text x="327.1" y="179.3" font-family='"Liberation Serif", serif' font-size="11" font-weight="bold" text-anchor="middle" fill="#000">Spl</text>
<text x="359.5" y="179.3" font-family='"Liberation Serif", serif' font-size="11" font-weight="bold" text-anchor="middle" fill="#000">LN</text>
<text x="396.4" y="179.3" font-family='"Liberation Serif", serif' font-size="11" font-weight="bold" text-anchor="middle" fill="#000">PBL</text>
<text x="427" y="179.3" font-family='"Liberation Serif", serif' font-size="11" font-weight="bold" text-anchor="middle" fill="#000">Spl</text>
<text x="460.4" y="179.3" font-family='"Liberation Serif", serif' font-size="11" font-weight="bold" text-anchor="middle" fill="#000">LN</text>
<text x="497.3" y="179.3" font-family='"Liberation Serif", serif' font-size="11" font-weight="bold" text-anchor="middle" fill="#000">PBL</text>
<text transform="translate(285.17 102) rotate(-90)" x="0" y="0" font-family='"Liberation Serif", serif' font-size="9.6" font-weight="bold" text-anchor="middle" fill="#000" textLength="34.2" lengthAdjust="spacingAndGlyphs">%Ki67+</text>
<line x1="412.8" y1="36" x2="412.8" y2="183.7" stroke="#000" stroke-width="1.8"/>
<line x1="44.5" y1="206" x2="44.5" y2="330.7" stroke="#a8a8a8" stroke-width="1.1"/>
<line x1="42.7" y1="330.7" x2="44.5" y2="330.7" stroke="#a8a8a8" stroke-width="0.8"/>
<text x="39.4" y="333.29" font-family='"Liberation Sans", sans-serif' font-size="7.2" font-weight="normal" text-anchor="end" fill="#2a2a2a" textLength="3.44" lengthAdjust="spacingAndGlyphs" stroke="#2a2a2a" stroke-width="0.25">0</text>
<line x1="42.7" y1="305.76" x2="44.5" y2="305.76" stroke="#a8a8a8" stroke-width="0.8"/>
<text x="39.4" y="308.35" font-family='"Liberation Sans", sans-serif' font-size="7.2" font-weight="normal" text-anchor="end" fill="#2a2a2a" textLength="10.33" lengthAdjust="spacingAndGlyphs" stroke="#2a2a2a" stroke-width="0.25">500</text>
<line x1="42.7" y1="280.82" x2="44.5" y2="280.82" stroke="#a8a8a8" stroke-width="0.8"/>
<text x="39.4" y="283.41" font-family='"Liberation Sans", sans-serif' font-size="7.2" font-weight="normal" text-anchor="end" fill="#2a2a2a" textLength="13.77" lengthAdjust="spacingAndGlyphs" stroke="#2a2a2a" stroke-width="0.25">1000</text>
<line x1="42.7" y1="255.88" x2="44.5" y2="255.88" stroke="#a8a8a8" stroke-width="0.8"/>
<text x="39.4" y="258.47" font-family='"Liberation Sans", sans-serif' font-size="7.2" font-weight="normal" text-anchor="end" fill="#2a2a2a" textLength="13.77" lengthAdjust="spacingAndGlyphs" stroke="#2a2a2a" stroke-width="0.25">1500</text>
<line x1="42.7" y1="230.94" x2="44.5" y2="230.94" stroke="#a8a8a8" stroke-width="0.8"/>
<text x="39.4" y="233.53" font-family='"Liberation Sans", sans-serif' font-size="7.2" font-weight="normal" text-anchor="end" fill="#2a2a2a" textLength="13.77" lengthAdjust="spacingAndGlyphs" stroke="#2a2a2a" stroke-width="0.25">2000</text>
<line x1="42.7" y1="206" x2="44.5" y2="206" stroke="#a8a8a8" stroke-width="0.8"/>
<text x="39.4" y="208.59" font-family='"Liberation Sans", sans-serif' font-size="7.2" font-weight="normal" text-anchor="end" fill="#2a2a2a" textLength="13.77" lengthAdjust="spacingAndGlyphs" stroke="#2a2a2a" stroke-width="0.25">2500</text>
<line x1="44.5" y1="206" x2="250.5" y2="206" stroke="#c4c4c4" stroke-width="1.3"/>
<line x1="250.5" y1="206" x2="250.5" y2="330.7" stroke="#c4c4c4" stroke-width="1.3"/>
<line x1="44.5" y1="330.7" x2="250.5" y2="330.7" stroke="#a8a8a8" stroke-width="1"/>
<rect x="59.05" y="293" width="19.7" height="37.7" fill="#9c9c9c" stroke="#6a6a6a" stroke-width="0.6"/>
<rect x="78.75" y="322.5" width="19.7" height="8.2" fill="#323232" stroke="#151515" stroke-width="0.6"/>
<line x1="68.9" y1="284.25" x2="68.9" y2="293" stroke="#444" stroke-width="0.85"/>
<line x1="68.9" y1="293" x2="68.9" y2="301.75" stroke="#474747" stroke-width="0.85"/>
<line x1="67.6" y1="284.25" x2="70.2" y2="284.25" stroke="#444" stroke-width="0.85"/>
<line x1="67.6" y1="301.75" x2="70.2" y2="301.75" stroke="#474747" stroke-width="0.85"/>
<line x1="88.6" y1="320.5" x2="88.6" y2="322.5" stroke="#707070" stroke-width="0.85"/>
<line x1="88.6" y1="322.5" x2="88.6" y2="324.5" stroke="#141414" stroke-width="0.85"/>
<line x1="87.3" y1="320.5" x2="89.9" y2="320.5" stroke="#707070" stroke-width="0.85"/>
<line x1="87.3" y1="324.5" x2="89.9" y2="324.5" stroke="#141414" stroke-width="0.85"/>
<rect x="127.6" y="222" width="19.7" height="108.7" fill="#9c9c9c" stroke="#6a6a6a" stroke-width="0.6"/>
<rect x="147.3" y="246.25" width="19.7" height="84.45" fill="#323232" stroke="#151515" stroke-width="0.6"/>
<line x1="137.45" y1="210" x2="137.45" y2="222" stroke="#444" stroke-width="0.85"/>
<line x1="137.45" y1="222" x2="137.45" y2="234" stroke="#474747" stroke-width="0.85"/>
<line x1="136.15" y1="210" x2="138.75" y2="210" stroke="#444" stroke-width="0.85"/>
<line x1="136.15" y1="234" x2="138.75" y2="234" stroke="#474747" stroke-width="0.85"/>
<line x1="157.15" y1="238.75" x2="157.15" y2="246.25" stroke="#707070" stroke-width="0.85"/>
<line x1="157.15" y1="246.25" x2="157.15" y2="253.75" stroke="#141414" stroke-width="0.85"/>
<line x1="155.85" y1="238.75" x2="158.45" y2="238.75" stroke="#707070" stroke-width="0.85"/>
<line x1="155.85" y1="253.75" x2="158.45" y2="253.75" stroke="#141414" stroke-width="0.85"/>
<rect x="196.4" y="274.5" width="19.7" height="56.2" fill="#9c9c9c" stroke="#6a6a6a" stroke-width="0.6"/>
<rect x="216.1" y="317.8" width="19.7" height="12.9" fill="#323232" stroke="#151515" stroke-width="0.6"/>
<line x1="206.25" y1="266.2" x2="206.25" y2="274.5" stroke="#444" stroke-width="0.85"/>
<line x1="206.25" y1="274.5" x2="206.25" y2="282.8" stroke="#474747" stroke-width="0.85"/>
<line x1="204.95" y1="266.2" x2="207.55" y2="266.2" stroke="#444" stroke-width="0.85"/>
<line x1="204.95" y1="282.8" x2="207.55" y2="282.8" stroke="#474747" stroke-width="0.85"/>
<line x1="225.95" y1="313.6" x2="225.95" y2="317.8" stroke="#707070" stroke-width="0.85"/>
<line x1="225.95" y1="317.8" x2="225.95" y2="322" stroke="#141414" stroke-width="0.85"/>
<line x1="224.65" y1="313.6" x2="227.25" y2="313.6" stroke="#707070" stroke-width="0.85"/>
<line x1="224.65" y1="322" x2="227.25" y2="322" stroke="#141414" stroke-width="0.85"/>
<g fill="#000"><path d="M73.53 278.75 L74.23 276.37 L72.27 276.37 L72.97 278.75 Z"/><circle cx="73.25" cy="276" r="1.05"/><path d="M73.34 279.02 L75.82 278.94 L75.21 277.09 L73.16 278.48 Z"/><circle cx="75.87" cy="277.9" r="1.05"/><path d="M73.02 278.91 L73.86 281.25 L75.44 280.1 L73.48 278.59 Z"/><circle cx="74.87" cy="280.97" r="1.05"/><path d="M73.02 278.59 L71.06 280.1 L72.64 281.25 L73.48 278.91 Z"/><circle cx="71.63" cy="280.97" r="1.05"/><path d="M73.34 278.48 L71.29 277.09 L70.68 278.94 L73.16 279.02 Z"/><circle cx="70.63" cy="277.9" r="1.05"/></g>
<g fill="#000"><path d="M150.28 217 L150.98 214.62 L149.02 214.62 L149.72 217 Z"/><circle cx="150" cy="214.25" r="1.05"/><path d="M150.09 217.27 L152.57 217.19 L151.96 215.34 L149.91 216.73 Z"/><circle cx="152.62" cy="216.15" r="1.05"/><path d="M149.77 217.16 L150.61 219.5 L152.19 218.35 L150.23 216.84 Z"/><circle cx="151.62" cy="219.22" r="1.05"/><path d="M149.77 216.84 L147.81 218.35 L149.39 219.5 L150.23 217.16 Z"/><circle cx="148.38" cy="219.22" r="1.05"/><path d="M150.09 216.73 L148.04 215.34 L147.43 217.19 L149.91 217.27 Z"/><circle cx="147.38" cy="216.15" r="1.05"/></g>
<g fill="#000"><path d="M217.38 259.9 L218.08 257.52 L216.12 257.52 L216.82 259.9 Z"/><circle cx="217.1" cy="257.15" r="1.05"/><path d="M217.19 260.17 L219.67 260.09 L219.06 258.24 L217.01 259.63 Z"/><circle cx="219.72" cy="259.05" r="1.05"/><path d="M216.87 260.06 L217.71 262.4 L219.29 261.25 L217.33 259.74 Z"/><circle cx="218.72" cy="262.12" r="1.05"/><path d="M216.87 259.74 L214.91 261.25 L216.49 262.4 L217.33 260.06 Z"/><circle cx="215.48" cy="262.12" r="1.05"/><path d="M217.19 259.63 L215.14 258.24 L214.53 260.09 L217.01 260.17 Z"/><circle cx="214.48" cy="259.05" r="1.05"/></g>
<text x="81.5" y="346.2" font-family='"Liberation Serif", serif' font-size="11" font-weight="bold" text-anchor="middle" fill="#000">Spl</text>
<text x="148.4" y="346.2" font-family='"Liberation Serif", serif' font-size="11" font-weight="bold" text-anchor="middle" fill="#000">LN</text>
<text x="213.75" y="346.2" font-family='"Liberation Serif", serif' font-size="11" font-weight="bold" text-anchor="middle" fill="#000">PBL</text>
<text transform="translate(7 274.5) rotate(-90)" x="0" y="0" font-family='"Liberation Serif", serif' font-size="9.4" font-weight="bold" text-anchor="middle" fill="#000" textLength="101" lengthAdjust="spacingAndGlyphs">Organ TREC Frequency</text>
<text transform="translate(20.4 275) rotate(-90)" x="0" y="0" font-family='"Liberation Serif", serif' font-size="9.4" font-weight="bold" text-anchor="middle" fill="#000" textLength="81" lengthAdjust="spacingAndGlyphs">(TREC/50000 Cells)</text>
<line x1="305.5" y1="206" x2="305.5" y2="330.6" stroke="#a8a8a8" stroke-width="1.1"/>
<line x1="303.7" y1="330.6" x2="305.5" y2="330.6" stroke="#a8a8a8" stroke-width="0.8"/>
<text x="301" y="333.19" font-family='"Liberation Sans", sans-serif' font-size="7.2" font-weight="normal" text-anchor="end" fill="#2a2a2a" textLength="3.44" lengthAdjust="spacingAndGlyphs" stroke="#2a2a2a" stroke-width="0.25">0</text>
<line x1="303.7" y1="305.68" x2="305.5" y2="305.68" stroke="#a8a8a8" stroke-width="0.8"/>
<text x="301" y="308.27" font-family='"Liberation Sans", sans-serif' font-size="7.2" font-weight="normal" text-anchor="end" fill="#2a2a2a" textLength="6.89" lengthAdjust="spacingAndGlyphs" stroke="#2a2a2a" stroke-width="0.25">10</text>
<line x1="303.7" y1="280.76" x2="305.5" y2="280.76" stroke="#a8a8a8" stroke-width="0.8"/>
<text x="301" y="283.35" font-family='"Liberation Sans", sans-serif' font-size="7.2" font-weight="normal" text-anchor="end" fill="#2a2a2a" textLength="6.89" lengthAdjust="spacingAndGlyphs" stroke="#2a2a2a" stroke-width="0.25">20</text>
<line x1="303.7" y1="255.84" x2="305.5" y2="255.84" stroke="#a8a8a8" stroke-width="0.8"/>
<text x="301" y="258.43" font-family='"Liberation Sans", sans-serif' font-size="7.2" font-weight="normal" text-anchor="end" fill="#2a2a2a" textLength="6.89" lengthAdjust="spacingAndGlyphs" stroke="#2a2a2a" stroke-width="0.25">30</text>
<line x1="303.7" y1="230.92" x2="305.5" y2="230.92" stroke="#a8a8a8" stroke-width="0.8"/>
<text x="301" y="233.51" font-family='"Liberation Sans", sans-serif' font-size="7.2" font-weight="normal" text-anchor="end" fill="#2a2a2a" textLength="6.89" lengthAdjust="spacingAndGlyphs" stroke="#2a2a2a" stroke-width="0.25">40</text>
<line x1="303.7" y1="206" x2="305.5" y2="206" stroke="#a8a8a8" stroke-width="0.8"/>
<text x="301" y="208.59" font-family='"Liberation Sans", sans-serif' font-size="7.2" font-weight="normal" text-anchor="end" fill="#2a2a2a" textLength="6.89" lengthAdjust="spacingAndGlyphs" stroke="#2a2a2a" stroke-width="0.25">50</text>
<line x1="305.5" y1="206" x2="518" y2="206" stroke="#c4c4c4" stroke-width="1.3"/>
<line x1="518" y1="206" x2="518" y2="330.6" stroke="#c4c4c4" stroke-width="1.3"/>
<line x1="305.5" y1="330.6" x2="518" y2="330.6" stroke="#a8a8a8" stroke-width="1"/>
<rect x="320.9" y="308.75" width="20.3" height="21.85" fill="#9c9c9c" stroke="#6a6a6a" stroke-width="0.6"/>
<rect x="341.2" y="301.25" width="20.3" height="29.35" fill="#323232" stroke="#151515" stroke-width="0.6"/>
<line x1="331.05" y1="304.35" x2="331.05" y2="308.75" stroke="#444" stroke-width="0.85"/>
<line x1="331.05" y1="308.75" x2="331.05" y2="313.15" stroke="#474747" stroke-width="0.85"/>
<line x1="329.75" y1="304.35" x2="332.35" y2="304.35" stroke="#444" stroke-width="0.85"/>
<line x1="329.75" y1="313.15" x2="332.35" y2="313.15" stroke="#474747" stroke-width="0.85"/>
<line x1="351.35" y1="292.75" x2="351.35" y2="301.25" stroke="#707070" stroke-width="0.85"/>
<line x1="351.35" y1="301.25" x2="351.35" y2="309.75" stroke="#141414" stroke-width="0.85"/>
<line x1="350.05" y1="292.75" x2="352.65" y2="292.75" stroke="#707070" stroke-width="0.85"/>
<line x1="350.05" y1="309.75" x2="352.65" y2="309.75" stroke="#141414" stroke-width="0.85"/>
<rect x="391.9" y="300" width="20.3" height="30.6" fill="#9c9c9c" stroke="#6a6a6a" stroke-width="0.6"/>
<rect x="412.2" y="236.2" width="20.3" height="94.4" fill="#323232" stroke="#151515" stroke-width="0.6"/>
<line x1="402.05" y1="291.8" x2="402.05" y2="300" stroke="#444" stroke-width="0.85"/>
<line x1="402.05" y1="300" x2="402.05" y2="308.2" stroke="#474747" stroke-width="0.85"/>
<line x1="400.75" y1="291.8" x2="403.35" y2="291.8" stroke="#444" stroke-width="0.85"/>
<line x1="400.75" y1="308.2" x2="403.35" y2="308.2" stroke="#474747" stroke-width="0.85"/>
<line x1="422.35" y1="210" x2="422.35" y2="236.2" stroke="#707070" stroke-width="0.85"/>
<line x1="422.35" y1="236.2" x2="422.35" y2="262.4" stroke="#141414" stroke-width="0.85"/>
<line x1="421.05" y1="210" x2="423.65" y2="210" stroke="#707070" stroke-width="0.85"/>
<line x1="421.05" y1="262.4" x2="423.65" y2="262.4" stroke="#141414" stroke-width="0.85"/>
<rect x="462.7" y="327" width="20.3" height="3.6" fill="#9c9c9c" stroke="#6a6a6a" stroke-width="0.6"/>
<rect x="483" y="326.5" width="20.3" height="4.1" fill="#323232" stroke="#151515" stroke-width="0.6"/>
<line x1="472.85" y1="326.5" x2="472.85" y2="327" stroke="#444" stroke-width="0.85"/>
<line x1="472.85" y1="327" x2="472.85" y2="327.5" stroke="#474747" stroke-width="0.85"/>
<line x1="471.55" y1="326.5" x2="474.15" y2="326.5" stroke="#444" stroke-width="0.85"/>
<line x1="471.55" y1="327.5" x2="474.15" y2="327.5" stroke="#474747" stroke-width="0.85"/>
<line x1="493.15" y1="325.8" x2="493.15" y2="326.5" stroke="#707070" stroke-width="0.85"/>
<line x1="493.15" y1="326.5" x2="493.15" y2="327.2" stroke="#141414" stroke-width="0.85"/>
<line x1="491.85" y1="325.8" x2="494.45" y2="325.8" stroke="#707070" stroke-width="0.85"/>
<line x1="491.85" y1="327.2" x2="494.45" y2="327.2" stroke="#141414" stroke-width="0.85"/>
<path d="M350 227.5 L350 227.5 Q350 223 354.5 223 L413 223 Q417.5 223 417.5 227.5 L417.5 232.5" fill="none" stroke="#444444" stroke-width="1.2"/>
<path d="M393.25 232.5 L393.25 232 Q393.25 227.5 397.75 227.5 L413 227.5 Q417.5 227.5 417.5 232 L417.5 232.5" fill="none" stroke="#444444" stroke-width="1.2"/>
<g fill="#000"><path d="M384.78 217 L385.48 214.62 L383.52 214.62 L384.22 217 Z"/><circle cx="384.5" cy="214.25" r="1.05"/><path d="M384.59 217.27 L387.07 217.19 L386.46 215.34 L384.41 216.73 Z"/><circle cx="387.12" cy="216.15" r="1.05"/><path d="M384.27 217.16 L385.11 219.5 L386.69 218.35 L384.73 216.84 Z"/><circle cx="386.12" cy="219.22" r="1.05"/><path d="M384.27 216.84 L382.31 218.35 L383.89 219.5 L384.73 217.16 Z"/><circle cx="382.88" cy="219.22" r="1.05"/><path d="M384.59 216.73 L382.54 215.34 L381.93 217.19 L384.41 217.27 Z"/><circle cx="381.88" cy="216.15" r="1.05"/></g>
<text x="340.25" y="346.6" font-family='"Liberation Serif", serif' font-size="11" font-weight="bold" text-anchor="middle" fill="#000">Spl</text>
<text x="412" y="346.6" font-family='"Liberation Serif", serif' font-size="11" font-weight="bold" text-anchor="middle" fill="#000">LN</text>
<text x="482.25" y="346.6" font-family='"Liberation Serif", serif' font-size="11" font-weight="bold" text-anchor="middle" fill="#000">PBL</text>
<text transform="translate(286.5 266.7) rotate(-90)" x="0" y="0" font-family='"Liberation Serif", serif' font-size="9.4" font-weight="bold" text-anchor="middle" fill="#000" textLength="105.7" lengthAdjust="spacingAndGlyphs">Total Organ TREC (x10<tspan font-size="65%" dy="-3.2">5</tspan><tspan dy="3.2">)</tspan></text>
<line x1="43.5" y1="415.5" x2="43.5" y2="531.3" stroke="#a8a8a8" stroke-width="1.1"/>
<line x1="41.7" y1="531.3" x2="43.5" y2="531.3" stroke="#a8a8a8" stroke-width="0.8"/>
<text x="38.4" y="533.96" font-family='"Liberation Sans", sans-serif' font-size="7.4" font-weight="bold" text-anchor="end" fill="#111" textLength="3.54" lengthAdjust="spacingAndGlyphs" stroke="#111" stroke-width="0.2">0</text>
<line x1="41.7" y1="502.35" x2="43.5" y2="502.35" stroke="#a8a8a8" stroke-width="0.8"/>
<text x="38.4" y="505.01" font-family='"Liberation Sans", sans-serif' font-size="7.4" font-weight="bold" text-anchor="end" fill="#111" textLength="10.62" lengthAdjust="spacingAndGlyphs" stroke="#111" stroke-width="0.2">500</text>
<line x1="41.7" y1="473.4" x2="43.5" y2="473.4" stroke="#a8a8a8" stroke-width="0.8"/>
<text x="38.4" y="476.06" font-family='"Liberation Sans", sans-serif' font-size="7.4" font-weight="bold" text-anchor="end" fill="#111" textLength="14.15" lengthAdjust="spacingAndGlyphs" stroke="#111" stroke-width="0.2">1000</text>
<line x1="41.7" y1="444.45" x2="43.5" y2="444.45" stroke="#a8a8a8" stroke-width="0.8"/>
<text x="38.4" y="447.11" font-family='"Liberation Sans", sans-serif' font-size="7.4" font-weight="bold" text-anchor="end" fill="#111" textLength="14.15" lengthAdjust="spacingAndGlyphs" stroke="#111" stroke-width="0.2">1500</text>
<line x1="41.7" y1="415.5" x2="43.5" y2="415.5" stroke="#a8a8a8" stroke-width="0.8"/>
<text x="38.4" y="418.16" font-family='"Liberation Sans", sans-serif' font-size="7.4" font-weight="bold" text-anchor="end" fill="#111" textLength="14.15" lengthAdjust="spacingAndGlyphs" stroke="#111" stroke-width="0.2">2000</text>
<line x1="43.5" y1="415.5" x2="251.4" y2="415.5" stroke="#c4c4c4" stroke-width="1.3"/>
<line x1="251.4" y1="415.5" x2="251.4" y2="531.3" stroke="#c4c4c4" stroke-width="1.3"/>
<line x1="43.5" y1="531.3" x2="251.4" y2="531.3" stroke="#a8a8a8" stroke-width="1"/>
<rect x="58.6" y="499.5" width="20" height="31.8" fill="#9c9c9c" stroke="#6a6a6a" stroke-width="0.6"/>
<rect x="78.6" y="524.5" width="20" height="6.8" fill="#323232" stroke="#151515" stroke-width="0.6"/>
<line x1="68.6" y1="495.4" x2="68.6" y2="499.5" stroke="#444" stroke-width="0.85"/>
<line x1="68.6" y1="499.5" x2="68.6" y2="503.6" stroke="#474747" stroke-width="0.85"/>
<line x1="67.3" y1="495.4" x2="69.9" y2="495.4" stroke="#444" stroke-width="0.85"/>
<line x1="67.3" y1="503.6" x2="69.9" y2="503.6" stroke="#474747" stroke-width="0.85"/>
<line x1="88.6" y1="523" x2="88.6" y2="524.5" stroke="#707070" stroke-width="0.85"/>
<line x1="88.6" y1="524.5" x2="88.6" y2="526" stroke="#141414" stroke-width="0.85"/>
<line x1="87.3" y1="523" x2="89.9" y2="523" stroke="#707070" stroke-width="0.85"/>
<line x1="87.3" y1="526" x2="89.9" y2="526" stroke="#141414" stroke-width="0.85"/>
<rect x="127.4" y="438.25" width="20" height="93.05" fill="#9c9c9c" stroke="#6a6a6a" stroke-width="0.6"/>
<rect x="147.4" y="478" width="20" height="53.3" fill="#323232" stroke="#151515" stroke-width="0.6"/>
<line x1="137.4" y1="430.75" x2="137.4" y2="438.25" stroke="#444" stroke-width="0.85"/>
<line x1="137.4" y1="438.25" x2="137.4" y2="445.75" stroke="#474747" stroke-width="0.85"/>
<line x1="136.1" y1="430.75" x2="138.7" y2="430.75" stroke="#444" stroke-width="0.85"/>
<line x1="136.1" y1="445.75" x2="138.7" y2="445.75" stroke="#474747" stroke-width="0.85"/>
<line x1="157.4" y1="473" x2="157.4" y2="478" stroke="#707070" stroke-width="0.85"/>
<line x1="157.4" y1="478" x2="157.4" y2="483" stroke="#141414" stroke-width="0.85"/>
<line x1="156.1" y1="473" x2="158.7" y2="473" stroke="#707070" stroke-width="0.85"/>
<line x1="156.1" y1="483" x2="158.7" y2="483" stroke="#141414" stroke-width="0.85"/>
<rect x="196.4" y="487.8" width="20" height="43.5" fill="#9c9c9c" stroke="#6a6a6a" stroke-width="0.6"/>
<rect x="216.4" y="522.3" width="20" height="9" fill="#323232" stroke="#151515" stroke-width="0.6"/>
<line x1="206.4" y1="483.2" x2="206.4" y2="487.8" stroke="#444" stroke-width="0.85"/>
<line x1="206.4" y1="487.8" x2="206.4" y2="492.4" stroke="#474747" stroke-width="0.85"/>
<line x1="205.1" y1="483.2" x2="207.7" y2="483.2" stroke="#444" stroke-width="0.85"/>
<line x1="205.1" y1="492.4" x2="207.7" y2="492.4" stroke="#474747" stroke-width="0.85"/>
<line x1="226.4" y1="519.1" x2="226.4" y2="522.3" stroke="#707070" stroke-width="0.85"/>
<line x1="226.4" y1="522.3" x2="226.4" y2="525.5" stroke="#141414" stroke-width="0.85"/>
<line x1="225.1" y1="519.1" x2="227.7" y2="519.1" stroke="#707070" stroke-width="0.85"/>
<line x1="225.1" y1="525.5" x2="227.7" y2="525.5" stroke="#141414" stroke-width="0.85"/>
<g fill="#000"><path d="M79.78 483.5 L80.48 481.12 L78.52 481.12 L79.22 483.5 Z"/><circle cx="79.5" cy="480.75" r="1.05"/><path d="M79.59 483.77 L82.07 483.69 L81.46 481.84 L79.41 483.23 Z"/><circle cx="82.12" cy="482.65" r="1.05"/><path d="M79.27 483.66 L80.11 486 L81.69 484.85 L79.73 483.34 Z"/><circle cx="81.12" cy="485.72" r="1.05"/><path d="M79.27 483.34 L77.31 484.85 L78.89 486 L79.73 483.66 Z"/><circle cx="77.88" cy="485.72" r="1.05"/><path d="M79.59 483.23 L77.54 481.84 L76.93 483.69 L79.41 483.77 Z"/><circle cx="76.88" cy="482.65" r="1.05"/></g>
<g fill="#000"><path d="M147.28 425.5 L147.98 423.12 L146.02 423.12 L146.72 425.5 Z"/><circle cx="147" cy="422.75" r="1.05"/><path d="M147.09 425.77 L149.57 425.69 L148.96 423.84 L146.91 425.23 Z"/><circle cx="149.62" cy="424.65" r="1.05"/><path d="M146.77 425.66 L147.61 428 L149.19 426.85 L147.23 425.34 Z"/><circle cx="148.62" cy="427.72" r="1.05"/><path d="M146.77 425.34 L144.81 426.85 L146.39 428 L147.23 425.66 Z"/><circle cx="145.38" cy="427.72" r="1.05"/><path d="M147.09 425.23 L145.04 423.84 L144.43 425.69 L146.91 425.77 Z"/><circle cx="144.38" cy="424.65" r="1.05"/></g>
<g fill="#000"><path d="M219.98 474 L220.68 471.62 L218.72 471.62 L219.42 474 Z"/><circle cx="219.7" cy="471.25" r="1.05"/><path d="M219.79 474.27 L222.27 474.19 L221.66 472.34 L219.61 473.73 Z"/><circle cx="222.32" cy="473.15" r="1.05"/><path d="M219.47 474.16 L220.31 476.5 L221.89 475.35 L219.93 473.84 Z"/><circle cx="221.32" cy="476.22" r="1.05"/><path d="M219.47 473.84 L217.51 475.35 L219.09 476.5 L219.93 474.16 Z"/><circle cx="218.08" cy="476.22" r="1.05"/><path d="M219.79 473.73 L217.74 472.34 L217.13 474.19 L219.61 474.27 Z"/><circle cx="217.08" cy="473.15" r="1.05"/></g>
<text x="82.1" y="547.2" font-family='"Liberation Serif", serif' font-size="11" font-weight="bold" text-anchor="middle" fill="#000">Spl</text>
<text x="150" y="547.2" font-family='"Liberation Serif", serif' font-size="11" font-weight="bold" text-anchor="middle" fill="#000">LN</text>
<text x="216.4" y="547.2" font-family='"Liberation Serif", serif' font-size="11" font-weight="bold" text-anchor="middle" fill="#000">PBL</text>
<text transform="translate(8.45 479.5) rotate(-90)" x="0" y="0" font-family='"Liberation Serif", serif' font-size="9.4" font-weight="bold" text-anchor="middle" fill="#000" textLength="101" lengthAdjust="spacingAndGlyphs">Organ TREC Frequency</text>
<text transform="translate(20.7 480.2) rotate(-90)" x="0" y="0" font-family='"Liberation Serif", serif' font-size="9.4" font-weight="bold" text-anchor="middle" fill="#000" textLength="82" lengthAdjust="spacingAndGlyphs">(TREC/50000 Cells)</text>
<line x1="309" y1="414.8" x2="309" y2="531.3" stroke="#a8a8a8" stroke-width="1.1"/>
<line x1="307.2" y1="531.3" x2="309" y2="531.3" stroke="#a8a8a8" stroke-width="0.8"/>
<text x="304" y="534.07" font-family='"Liberation Sans", sans-serif' font-size="7.7" font-weight="bold" text-anchor="end" fill="#111" textLength="3.85" lengthAdjust="spacingAndGlyphs" stroke="#111" stroke-width="0.2">0</text>
<line x1="307.2" y1="511.88" x2="309" y2="511.88" stroke="#a8a8a8" stroke-width="0.8"/>
<text x="304" y="514.66" font-family='"Liberation Sans", sans-serif' font-size="7.7" font-weight="bold" text-anchor="end" fill="#111" textLength="3.85" lengthAdjust="spacingAndGlyphs" stroke="#111" stroke-width="0.2">5</text>
<line x1="307.2" y1="492.47" x2="309" y2="492.47" stroke="#a8a8a8" stroke-width="0.8"/>
<text x="304" y="495.24" font-family='"Liberation Sans", sans-serif' font-size="7.7" font-weight="bold" text-anchor="end" fill="#111" textLength="7.71" lengthAdjust="spacingAndGlyphs" stroke="#111" stroke-width="0.2">10</text>
<line x1="307.2" y1="473.05" x2="309" y2="473.05" stroke="#a8a8a8" stroke-width="0.8"/>
<text x="304" y="475.82" font-family='"Liberation Sans", sans-serif' font-size="7.7" font-weight="bold" text-anchor="end" fill="#111" textLength="7.71" lengthAdjust="spacingAndGlyphs" stroke="#111" stroke-width="0.2">15</text>
<line x1="307.2" y1="453.63" x2="309" y2="453.63" stroke="#a8a8a8" stroke-width="0.8"/>
<text x="304" y="456.41" font-family='"Liberation Sans", sans-serif' font-size="7.7" font-weight="bold" text-anchor="end" fill="#111" textLength="7.71" lengthAdjust="spacingAndGlyphs" stroke="#111" stroke-width="0.2">20</text>
<line x1="307.2" y1="434.22" x2="309" y2="434.22" stroke="#a8a8a8" stroke-width="0.8"/>
<text x="304" y="436.99" font-family='"Liberation Sans", sans-serif' font-size="7.7" font-weight="bold" text-anchor="end" fill="#111" textLength="7.71" lengthAdjust="spacingAndGlyphs" stroke="#111" stroke-width="0.2">25</text>
<line x1="307.2" y1="414.8" x2="309" y2="414.8" stroke="#a8a8a8" stroke-width="0.8"/>
<text x="304" y="417.57" font-family='"Liberation Sans", sans-serif' font-size="7.7" font-weight="bold" text-anchor="end" fill="#111" textLength="7.71" lengthAdjust="spacingAndGlyphs" stroke="#111" stroke-width="0.2">30</text>
<line x1="309" y1="414.8" x2="518.3" y2="414.8" stroke="#c4c4c4" stroke-width="1.3"/>
<line x1="518.3" y1="414.8" x2="518.3" y2="531.3" stroke="#c4c4c4" stroke-width="1.3"/>
<line x1="309" y1="531.3" x2="518.3" y2="531.3" stroke="#a8a8a8" stroke-width="1"/>
<rect x="324.1" y="500.5" width="20" height="30.8" fill="#9c9c9c" stroke="#6a6a6a" stroke-width="0.6"/>
<rect x="344.1" y="486.25" width="20" height="45.05" fill="#323232" stroke="#151515" stroke-width="0.6"/>
<line x1="334.1" y1="496.1" x2="334.1" y2="500.5" stroke="#444" stroke-width="0.85"/>
<line x1="334.1" y1="500.5" x2="334.1" y2="504.9" stroke="#474747" stroke-width="0.85"/>
<line x1="332.8" y1="496.1" x2="335.4" y2="496.1" stroke="#444" stroke-width="0.85"/>
<line x1="332.8" y1="504.9" x2="335.4" y2="504.9" stroke="#474747" stroke-width="0.85"/>
<line x1="354.1" y1="476.25" x2="354.1" y2="486.25" stroke="#707070" stroke-width="0.85"/>
<line x1="354.1" y1="486.25" x2="354.1" y2="496.25" stroke="#141414" stroke-width="0.85"/>
<line x1="352.8" y1="476.25" x2="355.4" y2="476.25" stroke="#707070" stroke-width="0.85"/>
<line x1="352.8" y1="496.25" x2="355.4" y2="496.25" stroke="#141414" stroke-width="0.85"/>
<rect x="394" y="498" width="20" height="33.3" fill="#9c9c9c" stroke="#6a6a6a" stroke-width="0.6"/>
<rect x="414" y="452.5" width="20" height="78.8" fill="#323232" stroke="#151515" stroke-width="0.6"/>
<line x1="404" y1="490.2" x2="404" y2="498" stroke="#444" stroke-width="0.85"/>
<line x1="404" y1="498" x2="404" y2="505.8" stroke="#474747" stroke-width="0.85"/>
<line x1="402.7" y1="490.2" x2="405.3" y2="490.2" stroke="#444" stroke-width="0.85"/>
<line x1="402.7" y1="505.8" x2="405.3" y2="505.8" stroke="#474747" stroke-width="0.85"/>
<line x1="424" y1="437.9" x2="424" y2="452.5" stroke="#707070" stroke-width="0.85"/>
<line x1="424" y1="452.5" x2="424" y2="467.1" stroke="#141414" stroke-width="0.85"/>
<line x1="422.7" y1="437.9" x2="425.3" y2="437.9" stroke="#707070" stroke-width="0.85"/>
<line x1="422.7" y1="467.1" x2="425.3" y2="467.1" stroke="#141414" stroke-width="0.85"/>
<rect x="463.5" y="525.9" width="20" height="5.4" fill="#9c9c9c" stroke="#6a6a6a" stroke-width="0.6"/>
<rect x="483.5" y="523.8" width="20" height="7.5" fill="#323232" stroke="#151515" stroke-width="0.6"/>
<line x1="473.5" y1="525.1" x2="473.5" y2="525.9" stroke="#444" stroke-width="0.85"/>
<line x1="473.5" y1="525.9" x2="473.5" y2="526.7" stroke="#474747" stroke-width="0.85"/>
<line x1="472.2" y1="525.1" x2="474.8" y2="525.1" stroke="#444" stroke-width="0.85"/>
<line x1="472.2" y1="526.7" x2="474.8" y2="526.7" stroke="#474747" stroke-width="0.85"/>
<line x1="493.5" y1="523" x2="493.5" y2="523.8" stroke="#707070" stroke-width="0.85"/>
<line x1="493.5" y1="523.8" x2="493.5" y2="524.6" stroke="#141414" stroke-width="0.85"/>
<line x1="492.2" y1="523" x2="494.8" y2="523" stroke="#707070" stroke-width="0.85"/>
<line x1="492.2" y1="524.6" x2="494.8" y2="524.6" stroke="#141414" stroke-width="0.85"/>
<path d="M353.5 437 L353.5 436.5 Q353.5 432 358 432 L417.4 432 Q421.9 432 421.9 436.5 L421.9 441.25" fill="none" stroke="#444444" stroke-width="1.2"/>
<path d="M397.5 441.25 L397.5 441.25 Q397.5 437 401.75 437 L417.65 437 Q421.9 437 421.9 441.25 L421.9 441.25" fill="none" stroke="#444444" stroke-width="1.2"/>
<g fill="#000"><path d="M389.03 425.5 L389.73 423.12 L387.77 423.12 L388.47 425.5 Z"/><circle cx="388.75" cy="422.75" r="1.05"/><path d="M388.84 425.77 L391.32 425.69 L390.71 423.84 L388.66 425.23 Z"/><circle cx="391.37" cy="424.65" r="1.05"/><path d="M388.52 425.66 L389.36 428 L390.94 426.85 L388.98 425.34 Z"/><circle cx="390.37" cy="427.72" r="1.05"/><path d="M388.52 425.34 L386.56 426.85 L388.14 428 L388.98 425.66 Z"/><circle cx="387.13" cy="427.72" r="1.05"/><path d="M388.84 425.23 L386.79 423.84 L386.18 425.69 L388.66 425.77 Z"/><circle cx="386.13" cy="424.65" r="1.05"/></g>
<g fill="#000"><path d="M480.68 507.9 L481.38 505.52 L479.42 505.52 L480.12 507.9 Z"/><circle cx="480.4" cy="505.15" r="1.05"/><path d="M480.49 508.17 L482.97 508.09 L482.36 506.24 L480.31 507.63 Z"/><circle cx="483.02" cy="507.05" r="1.05"/><path d="M480.17 508.06 L481.01 510.4 L482.59 509.25 L480.63 507.74 Z"/><circle cx="482.02" cy="510.12" r="1.05"/><path d="M480.17 507.74 L478.21 509.25 L479.79 510.4 L480.63 508.06 Z"/><circle cx="478.78" cy="510.12" r="1.05"/><path d="M480.49 507.63 L478.44 506.24 L477.83 508.09 L480.31 508.17 Z"/><circle cx="477.78" cy="507.05" r="1.05"/></g>
<text x="342.75" y="547.6" font-family='"Liberation Serif", serif' font-size="11" font-weight="bold" text-anchor="middle" fill="#000">Spl</text>
<text x="411.6" y="547.6" font-family='"Liberation Serif", serif' font-size="11" font-weight="bold" text-anchor="middle" fill="#000">LN</text>
<text x="481.9" y="547.6" font-family='"Liberation Serif", serif' font-size="11" font-weight="bold" text-anchor="middle" fill="#000">PBL</text>
<text transform="translate(289.07 472) rotate(-90)" x="0" y="0" font-family='"Liberation Serif", serif' font-size="9.6" font-weight="bold" text-anchor="middle" fill="#000" textLength="109" lengthAdjust="spacingAndGlyphs">Total Organ TREC (x10<tspan font-size="65%" dy="-3.2">5</tspan><tspan dy="3.2">)</tspan></text>
<line x1="44" y1="626.3" x2="44" y2="739.4" stroke="#a8a8a8" stroke-width="1.1"/>
<line x1="42.2" y1="739.4" x2="44" y2="739.4" stroke="#a8a8a8" stroke-width="0.8"/>
<text x="38.9" y="741.99" font-family='"Liberation Sans", sans-serif' font-size="7.2" font-weight="normal" text-anchor="end" fill="#2a2a2a" textLength="8.61" lengthAdjust="spacingAndGlyphs" stroke="#2a2a2a" stroke-width="0.25">0.0</text>
<line x1="42.2" y1="728.09" x2="44" y2="728.09" stroke="#a8a8a8" stroke-width="0.8"/>
<text x="38.9" y="730.68" font-family='"Liberation Sans", sans-serif' font-size="7.2" font-weight="normal" text-anchor="end" fill="#2a2a2a" textLength="8.61" lengthAdjust="spacingAndGlyphs" stroke="#2a2a2a" stroke-width="0.25">1.0</text>
<line x1="42.2" y1="716.78" x2="44" y2="716.78" stroke="#a8a8a8" stroke-width="0.8"/>
<text x="38.9" y="719.37" font-family='"Liberation Sans", sans-serif' font-size="7.2" font-weight="normal" text-anchor="end" fill="#2a2a2a" textLength="8.61" lengthAdjust="spacingAndGlyphs" stroke="#2a2a2a" stroke-width="0.25">2.0</text>
<line x1="42.2" y1="705.47" x2="44" y2="705.47" stroke="#a8a8a8" stroke-width="0.8"/>
<text x="38.9" y="708.06" font-family='"Liberation Sans", sans-serif' font-size="7.2" font-weight="normal" text-anchor="end" fill="#2a2a2a" textLength="8.61" lengthAdjust="spacingAndGlyphs" stroke="#2a2a2a" stroke-width="0.25">3.0</text>
<line x1="42.2" y1="694.16" x2="44" y2="694.16" stroke="#a8a8a8" stroke-width="0.8"/>
<text x="38.9" y="696.75" font-family='"Liberation Sans", sans-serif' font-size="7.2" font-weight="normal" text-anchor="end" fill="#2a2a2a" textLength="8.61" lengthAdjust="spacingAndGlyphs" stroke="#2a2a2a" stroke-width="0.25">4.0</text>
<line x1="42.2" y1="682.85" x2="44" y2="682.85" stroke="#a8a8a8" stroke-width="0.8"/>
<text x="38.9" y="685.44" font-family='"Liberation Sans", sans-serif' font-size="7.2" font-weight="normal" text-anchor="end" fill="#2a2a2a" textLength="8.61" lengthAdjust="spacingAndGlyphs" stroke="#2a2a2a" stroke-width="0.25">5.0</text>
<line x1="42.2" y1="671.54" x2="44" y2="671.54" stroke="#a8a8a8" stroke-width="0.8"/>
<text x="38.9" y="674.13" font-family='"Liberation Sans", sans-serif' font-size="7.2" font-weight="normal" text-anchor="end" fill="#2a2a2a" textLength="8.61" lengthAdjust="spacingAndGlyphs" stroke="#2a2a2a" stroke-width="0.25">6.0</text>
<line x1="42.2" y1="660.23" x2="44" y2="660.23" stroke="#a8a8a8" stroke-width="0.8"/>
<text x="38.9" y="662.82" font-family='"Liberation Sans", sans-serif' font-size="7.2" font-weight="normal" text-anchor="end" fill="#2a2a2a" textLength="8.61" lengthAdjust="spacingAndGlyphs" stroke="#2a2a2a" stroke-width="0.25">7.0</text>
<line x1="42.2" y1="648.92" x2="44" y2="648.92" stroke="#a8a8a8" stroke-width="0.8"/>
<text x="38.9" y="651.51" font-family='"Liberation Sans", sans-serif' font-size="7.2" font-weight="normal" text-anchor="end" fill="#2a2a2a" textLength="8.61" lengthAdjust="spacingAndGlyphs" stroke="#2a2a2a" stroke-width="0.25">8.0</text>
<line x1="42.2" y1="637.61" x2="44" y2="637.61" stroke="#a8a8a8" stroke-width="0.8"/>
<text x="38.9" y="640.2" font-family='"Liberation Sans", sans-serif' font-size="7.2" font-weight="normal" text-anchor="end" fill="#2a2a2a" textLength="8.61" lengthAdjust="spacingAndGlyphs" stroke="#2a2a2a" stroke-width="0.25">9.0</text>
<line x1="42.2" y1="626.3" x2="44" y2="626.3" stroke="#a8a8a8" stroke-width="0.8"/>
<text x="38.9" y="628.89" font-family='"Liberation Sans", sans-serif' font-size="7.2" font-weight="normal" text-anchor="end" fill="#2a2a2a" textLength="12.05" lengthAdjust="spacingAndGlyphs" stroke="#2a2a2a" stroke-width="0.25">10.0</text>
<line x1="44" y1="626.3" x2="150" y2="626.3" stroke="#c4c4c4" stroke-width="1.3"/>
<line x1="44" y1="739.4" x2="150" y2="739.4" stroke="#a8a8a8" stroke-width="1"/>
<rect x="51.05" y="675" width="10.2" height="64.4" fill="#9c9c9c" stroke="#6a6a6a" stroke-width="0.6"/>
<rect x="61.25" y="672.5" width="10.2" height="66.9" fill="#323232" stroke="#151515" stroke-width="0.6"/>
<line x1="56.15" y1="667.5" x2="56.15" y2="675" stroke="#444" stroke-width="0.85"/>
<line x1="56.15" y1="675" x2="56.15" y2="682.5" stroke="#474747" stroke-width="0.85"/>
<line x1="54.85" y1="667.5" x2="57.45" y2="667.5" stroke="#444" stroke-width="0.85"/>
<line x1="54.85" y1="682.5" x2="57.45" y2="682.5" stroke="#474747" stroke-width="0.85"/>
<line x1="66.35" y1="657" x2="66.35" y2="672.5" stroke="#707070" stroke-width="0.85"/>
<line x1="66.35" y1="672.5" x2="66.35" y2="688" stroke="#141414" stroke-width="0.85"/>
<line x1="65.05" y1="657" x2="67.65" y2="657" stroke="#707070" stroke-width="0.85"/>
<line x1="65.05" y1="688" x2="67.65" y2="688" stroke="#141414" stroke-width="0.85"/>
<rect x="86.05" y="695.5" width="10.2" height="43.9" fill="#9c9c9c" stroke="#6a6a6a" stroke-width="0.6"/>
<rect x="96.25" y="651" width="10.2" height="88.4" fill="#323232" stroke="#151515" stroke-width="0.6"/>
<line x1="91.15" y1="680" x2="91.15" y2="695.5" stroke="#444" stroke-width="0.85"/>
<line x1="91.15" y1="695.5" x2="91.15" y2="711" stroke="#474747" stroke-width="0.85"/>
<line x1="89.85" y1="680" x2="92.45" y2="680" stroke="#444" stroke-width="0.85"/>
<line x1="89.85" y1="711" x2="92.45" y2="711" stroke="#474747" stroke-width="0.85"/>
<line x1="101.35" y1="637.5" x2="101.35" y2="651" stroke="#707070" stroke-width="0.85"/>
<line x1="101.35" y1="651" x2="101.35" y2="664.5" stroke="#141414" stroke-width="0.85"/>
<line x1="100.05" y1="637.5" x2="102.65" y2="637.5" stroke="#707070" stroke-width="0.85"/>
<line x1="100.05" y1="664.5" x2="102.65" y2="664.5" stroke="#141414" stroke-width="0.85"/>
<rect x="120.6" y="736.7" width="10.2" height="2.7" fill="#9c9c9c" stroke="#6a6a6a" stroke-width="0.6"/>
<rect x="130.8" y="734.1" width="10.2" height="5.3" fill="#323232" stroke="#151515" stroke-width="0.6"/>
<line x1="125.7" y1="736.1" x2="125.7" y2="736.7" stroke="#444" stroke-width="0.85"/>
<line x1="125.7" y1="736.7" x2="125.7" y2="737.3" stroke="#474747" stroke-width="0.85"/>
<line x1="124.4" y1="736.1" x2="127" y2="736.1" stroke="#444" stroke-width="0.85"/>
<line x1="124.4" y1="737.3" x2="127" y2="737.3" stroke="#474747" stroke-width="0.85"/>
<line x1="135.9" y1="732.9" x2="135.9" y2="734.1" stroke="#707070" stroke-width="0.85"/>
<line x1="135.9" y1="734.1" x2="135.9" y2="735.3" stroke="#141414" stroke-width="0.85"/>
<line x1="134.6" y1="732.9" x2="137.2" y2="732.9" stroke="#707070" stroke-width="0.85"/>
<line x1="134.6" y1="735.3" x2="137.2" y2="735.3" stroke="#141414" stroke-width="0.85"/>
<path d="M68.75 633.75 L68.75 632.6 Q68.75 630 71.35 630 L99.9 630 Q102.5 630 102.5 632.6 L102.5 638.75" fill="none" stroke="#444444" stroke-width="1.2"/>
<path d="M93 638.75 L93 636.35 Q93 633.75 95.6 633.75 L99.9 633.75 Q102.5 633.75 102.5 636.35 L102.5 638.75" fill="none" stroke="#444444" stroke-width="1.2"/>
<g fill="#000"><path d="M85.28 638 L85.98 635.62 L84.02 635.62 L84.72 638 Z"/><circle cx="85" cy="635.25" r="1.05"/><path d="M85.09 638.27 L87.57 638.19 L86.96 636.34 L84.91 637.73 Z"/><circle cx="87.62" cy="637.15" r="1.05"/><path d="M84.77 638.16 L85.61 640.5 L87.19 639.35 L85.23 637.84 Z"/><circle cx="86.62" cy="640.22" r="1.05"/><path d="M84.77 637.84 L82.81 639.35 L84.39 640.5 L85.23 638.16 Z"/><circle cx="83.38" cy="640.22" r="1.05"/><path d="M85.09 637.73 L83.04 636.34 L82.43 638.19 L84.91 638.27 Z"/><circle cx="82.38" cy="637.15" r="1.05"/></g>
<g fill="#000"><path d="M137.78 719.4 L138.48 717.02 L136.52 717.02 L137.22 719.4 Z"/><circle cx="137.5" cy="716.65" r="1.05"/><path d="M137.59 719.67 L140.07 719.59 L139.46 717.74 L137.41 719.13 Z"/><circle cx="140.12" cy="718.55" r="1.05"/><path d="M137.27 719.56 L138.11 721.9 L139.69 720.75 L137.73 719.24 Z"/><circle cx="139.12" cy="721.62" r="1.05"/><path d="M137.27 719.24 L135.31 720.75 L136.89 721.9 L137.73 719.56 Z"/><circle cx="135.88" cy="721.62" r="1.05"/><path d="M137.59 719.13 L135.54 717.74 L134.93 719.59 L137.41 719.67 Z"/><circle cx="134.88" cy="718.55" r="1.05"/></g>
<text x="65.5" y="619.3" font-family='"Liberation Serif", serif' font-size="11.4" font-weight="bold" text-anchor="start" fill="#000" textLength="67" lengthAdjust="spacingAndGlyphs">CD4+/CD44lo</text>
<text x="58.75" y="760.5" font-family='"Liberation Serif", serif' font-size="11" font-weight="bold" text-anchor="middle" fill="#000">Spl</text>
<text x="92.5" y="760.5" font-family='"Liberation Serif", serif' font-size="11" font-weight="bold" text-anchor="middle" fill="#000">LN</text>
<text x="129.1" y="760.5" font-family='"Liberation Serif", serif' font-size="11" font-weight="bold" text-anchor="middle" fill="#000">PBL</text>
<text transform="translate(23.14 691) rotate(-90)" x="0" y="0" font-family='"Liberation Serif", serif' font-size="9.5" font-weight="bold" text-anchor="middle" fill="#000">No. Cells (x10<tspan font-size="65%" dy="-3.2">6</tspan><tspan dy="3.2">)</tspan></text>
<line x1="151" y1="626.5" x2="252.6" y2="626.5" stroke="#c4c4c4" stroke-width="1.3"/>
<line x1="252.6" y1="626.5" x2="252.6" y2="739.6" stroke="#c4c4c4" stroke-width="1.3"/>
<line x1="151" y1="739.6" x2="252.6" y2="739.6" stroke="#a8a8a8" stroke-width="1"/>
<rect x="155.3" y="708.9" width="10.1" height="30.7" fill="#9c9c9c" stroke="#6a6a6a" stroke-width="0.6"/>
<rect x="165.4" y="698.5" width="10.1" height="41.1" fill="#323232" stroke="#151515" stroke-width="0.6"/>
<line x1="160.35" y1="702.6" x2="160.35" y2="708.9" stroke="#444" stroke-width="0.85"/>
<line x1="160.35" y1="708.9" x2="160.35" y2="715.2" stroke="#474747" stroke-width="0.85"/>
<line x1="159.05" y1="702.6" x2="161.65" y2="702.6" stroke="#444" stroke-width="0.85"/>
<line x1="159.05" y1="715.2" x2="161.65" y2="715.2" stroke="#474747" stroke-width="0.85"/>
<line x1="170.45" y1="688.2" x2="170.45" y2="698.5" stroke="#707070" stroke-width="0.85"/>
<line x1="170.45" y1="698.5" x2="170.45" y2="708.8" stroke="#141414" stroke-width="0.85"/>
<line x1="169.15" y1="688.2" x2="171.75" y2="688.2" stroke="#707070" stroke-width="0.85"/>
<line x1="169.15" y1="708.8" x2="171.75" y2="708.8" stroke="#141414" stroke-width="0.85"/>
<rect x="190.4" y="713.5" width="10.1" height="26.1" fill="#9c9c9c" stroke="#6a6a6a" stroke-width="0.6"/>
<rect x="200.5" y="671.5" width="10.1" height="68.1" fill="#323232" stroke="#151515" stroke-width="0.6"/>
<line x1="195.45" y1="707.2" x2="195.45" y2="713.5" stroke="#444" stroke-width="0.85"/>
<line x1="195.45" y1="713.5" x2="195.45" y2="719.8" stroke="#474747" stroke-width="0.85"/>
<line x1="194.15" y1="707.2" x2="196.75" y2="707.2" stroke="#444" stroke-width="0.85"/>
<line x1="194.15" y1="719.8" x2="196.75" y2="719.8" stroke="#474747" stroke-width="0.85"/>
<line x1="205.55" y1="663.5" x2="205.55" y2="671.5" stroke="#707070" stroke-width="0.85"/>
<line x1="205.55" y1="671.5" x2="205.55" y2="679.5" stroke="#141414" stroke-width="0.85"/>
<line x1="204.25" y1="663.5" x2="206.85" y2="663.5" stroke="#707070" stroke-width="0.85"/>
<line x1="204.25" y1="679.5" x2="206.85" y2="679.5" stroke="#141414" stroke-width="0.85"/>
<rect x="225" y="738" width="10.1" height="1.6" fill="#9c9c9c" stroke="#6a6a6a" stroke-width="0.6"/>
<rect x="235.1" y="735" width="10.1" height="4.6" fill="#323232" stroke="#151515" stroke-width="0.6"/>
<line x1="230.05" y1="737.5" x2="230.05" y2="738" stroke="#444" stroke-width="0.85"/>
<line x1="230.05" y1="738" x2="230.05" y2="738.5" stroke="#474747" stroke-width="0.85"/>
<line x1="228.75" y1="737.5" x2="231.35" y2="737.5" stroke="#444" stroke-width="0.85"/>
<line x1="228.75" y1="738.5" x2="231.35" y2="738.5" stroke="#474747" stroke-width="0.85"/>
<line x1="240.15" y1="734" x2="240.15" y2="735" stroke="#707070" stroke-width="0.85"/>
<line x1="240.15" y1="735" x2="240.15" y2="736" stroke="#141414" stroke-width="0.85"/>
<line x1="238.85" y1="734" x2="241.45" y2="734" stroke="#707070" stroke-width="0.85"/>
<line x1="238.85" y1="736" x2="241.45" y2="736" stroke="#141414" stroke-width="0.85"/>
<path d="M175.4 649.2 L175.4 647.2 Q175.4 644.6 178 644.6 L206.6 644.6 Q209.2 644.6 209.2 647.2 L209.2 649.2" fill="none" stroke="#444444" stroke-width="1.2"/>
<path d="M199 659.1 L199 656.4 Q199 653.8 201.6 653.8 L206.6 653.8 Q209.2 653.8 209.2 656.4 L209.2 659.1" fill="none" stroke="#444444" stroke-width="1.2"/>
<g fill="#000"><path d="M166.68 682 L167.38 679.62 L165.42 679.62 L166.12 682 Z"/><circle cx="166.4" cy="679.25" r="1.05"/><path d="M166.49 682.27 L168.97 682.19 L168.36 680.34 L166.31 681.73 Z"/><circle cx="169.02" cy="681.15" r="1.05"/><path d="M166.17 682.16 L167.01 684.5 L168.59 683.35 L166.63 681.84 Z"/><circle cx="168.02" cy="684.22" r="1.05"/><path d="M166.17 681.84 L164.21 683.35 L165.79 684.5 L166.63 682.16 Z"/><circle cx="164.78" cy="684.22" r="1.05"/><path d="M166.49 681.73 L164.44 680.34 L163.83 682.19 L166.31 682.27 Z"/><circle cx="163.78" cy="681.15" r="1.05"/></g>
<g fill="#000"><path d="M196.28 638.5 L196.98 636.12 L195.02 636.12 L195.72 638.5 Z"/><circle cx="196" cy="635.75" r="1.05"/><path d="M196.09 638.77 L198.57 638.69 L197.96 636.84 L195.91 638.23 Z"/><circle cx="198.62" cy="637.65" r="1.05"/><path d="M195.77 638.66 L196.61 641 L198.19 639.85 L196.23 638.34 Z"/><circle cx="197.62" cy="640.72" r="1.05"/><path d="M195.77 638.34 L193.81 639.85 L195.39 641 L196.23 638.66 Z"/><circle cx="194.38" cy="640.72" r="1.05"/><path d="M196.09 638.23 L194.04 636.84 L193.43 638.69 L195.91 638.77 Z"/><circle cx="193.38" cy="637.65" r="1.05"/></g>
<g fill="#000"><path d="M239.48 725.1 L240.18 722.72 L238.22 722.72 L238.92 725.1 Z"/><circle cx="239.2" cy="722.35" r="1.05"/><path d="M239.29 725.37 L241.77 725.29 L241.16 723.44 L239.11 724.83 Z"/><circle cx="241.82" cy="724.25" r="1.05"/><path d="M238.97 725.26 L239.81 727.6 L241.39 726.45 L239.43 724.94 Z"/><circle cx="240.82" cy="727.32" r="1.05"/><path d="M238.97 724.94 L237.01 726.45 L238.59 727.6 L239.43 725.26 Z"/><circle cx="237.58" cy="727.32" r="1.05"/><path d="M239.29 724.83 L237.24 723.44 L236.63 725.29 L239.11 725.37 Z"/><circle cx="236.58" cy="724.25" r="1.05"/></g>
<text x="172.3" y="619.8" font-family='"Liberation Serif", serif' font-size="11.4" font-weight="bold" text-anchor="start" fill="#000" textLength="66.8" lengthAdjust="spacingAndGlyphs">CD8+/CD44lo</text>
<text x="169.4" y="759.5" font-family='"Liberation Serif", serif' font-size="11" font-weight="bold" text-anchor="middle" fill="#000">Spl</text>
<text x="203.1" y="759.5" font-family='"Liberation Serif", serif' font-size="11" font-weight="bold" text-anchor="middle" fill="#000">LN</text>
<text x="240.2" y="759.5" font-family='"Liberation Serif", serif' font-size="11" font-weight="bold" text-anchor="middle" fill="#000">PBL</text>
<line x1="151" y1="615.5" x2="151" y2="764" stroke="#000" stroke-width="1.8"/>
<line x1="308.3" y1="625.6" x2="308.3" y2="740" stroke="#a8a8a8" stroke-width="1.1"/>
<line x1="306.5" y1="740" x2="308.3" y2="740" stroke="#a8a8a8" stroke-width="0.8"/>
<text x="301.8" y="742.3" font-family='"Liberation Sans", sans-serif' font-size="6.4" font-weight="normal" text-anchor="end" fill="#2a2a2a" textLength="3.06" lengthAdjust="spacingAndGlyphs" stroke="#2a2a2a" stroke-width="0.25">0</text>
<line x1="306.5" y1="727.29" x2="308.3" y2="727.29" stroke="#a8a8a8" stroke-width="0.8"/>
<text x="301.8" y="729.59" font-family='"Liberation Sans", sans-serif' font-size="6.4" font-weight="normal" text-anchor="end" fill="#2a2a2a" textLength="3.06" lengthAdjust="spacingAndGlyphs" stroke="#2a2a2a" stroke-width="0.25">5</text>
<line x1="306.5" y1="714.58" x2="308.3" y2="714.58" stroke="#a8a8a8" stroke-width="0.8"/>
<text x="301.8" y="716.88" font-family='"Liberation Sans", sans-serif' font-size="6.4" font-weight="normal" text-anchor="end" fill="#2a2a2a" textLength="6.12" lengthAdjust="spacingAndGlyphs" stroke="#2a2a2a" stroke-width="0.25">10</text>
<line x1="306.5" y1="701.87" x2="308.3" y2="701.87" stroke="#a8a8a8" stroke-width="0.8"/>
<text x="301.8" y="704.17" font-family='"Liberation Sans", sans-serif' font-size="6.4" font-weight="normal" text-anchor="end" fill="#2a2a2a" textLength="6.12" lengthAdjust="spacingAndGlyphs" stroke="#2a2a2a" stroke-width="0.25">15</text>
<line x1="306.5" y1="689.16" x2="308.3" y2="689.16" stroke="#a8a8a8" stroke-width="0.8"/>
<text x="301.8" y="691.46" font-family='"Liberation Sans", sans-serif' font-size="6.4" font-weight="normal" text-anchor="end" fill="#2a2a2a" textLength="6.12" lengthAdjust="spacingAndGlyphs" stroke="#2a2a2a" stroke-width="0.25">20</text>
<line x1="306.5" y1="676.44" x2="308.3" y2="676.44" stroke="#a8a8a8" stroke-width="0.8"/>
<text x="301.8" y="678.75" font-family='"Liberation Sans", sans-serif' font-size="6.4" font-weight="normal" text-anchor="end" fill="#2a2a2a" textLength="6.12" lengthAdjust="spacingAndGlyphs" stroke="#2a2a2a" stroke-width="0.25">25</text>
<line x1="306.5" y1="663.73" x2="308.3" y2="663.73" stroke="#a8a8a8" stroke-width="0.8"/>
<text x="301.8" y="666.04" font-family='"Liberation Sans", sans-serif' font-size="6.4" font-weight="normal" text-anchor="end" fill="#2a2a2a" textLength="6.12" lengthAdjust="spacingAndGlyphs" stroke="#2a2a2a" stroke-width="0.25">30</text>
<line x1="306.5" y1="651.02" x2="308.3" y2="651.02" stroke="#a8a8a8" stroke-width="0.8"/>
<text x="301.8" y="653.33" font-family='"Liberation Sans", sans-serif' font-size="6.4" font-weight="normal" text-anchor="end" fill="#2a2a2a" textLength="6.12" lengthAdjust="spacingAndGlyphs" stroke="#2a2a2a" stroke-width="0.25">35</text>
<line x1="306.5" y1="638.31" x2="308.3" y2="638.31" stroke="#a8a8a8" stroke-width="0.8"/>
<text x="301.8" y="640.62" font-family='"Liberation Sans", sans-serif' font-size="6.4" font-weight="normal" text-anchor="end" fill="#2a2a2a" textLength="6.12" lengthAdjust="spacingAndGlyphs" stroke="#2a2a2a" stroke-width="0.25">40</text>
<line x1="306.5" y1="625.6" x2="308.3" y2="625.6" stroke="#a8a8a8" stroke-width="0.8"/>
<text x="301.8" y="627.9" font-family='"Liberation Sans", sans-serif' font-size="6.4" font-weight="normal" text-anchor="end" fill="#2a2a2a" textLength="6.12" lengthAdjust="spacingAndGlyphs" stroke="#2a2a2a" stroke-width="0.25">45</text>
<line x1="308.5" y1="625.6" x2="518.4" y2="625.6" stroke="#c4c4c4" stroke-width="1.3"/>
<line x1="518.4" y1="625.6" x2="518.4" y2="740" stroke="#c4c4c4" stroke-width="1.3"/>
<line x1="308.5" y1="740" x2="518.4" y2="740" stroke="#a8a8a8" stroke-width="1"/>
<rect x="315.75" y="730" width="10" height="10" fill="#9c9c9c" stroke="#6a6a6a" stroke-width="0.6"/>
<rect x="325.75" y="654.25" width="10" height="85.75" fill="#323232" stroke="#151515" stroke-width="0.6"/>
<line x1="320.75" y1="727" x2="320.75" y2="730" stroke="#444" stroke-width="0.85"/>
<line x1="320.75" y1="730" x2="320.75" y2="733" stroke="#474747" stroke-width="0.85"/>
<line x1="319.45" y1="727" x2="322.05" y2="727" stroke="#444" stroke-width="0.85"/>
<line x1="319.45" y1="733" x2="322.05" y2="733" stroke="#474747" stroke-width="0.85"/>
<line x1="330.75" y1="641.25" x2="330.75" y2="654.25" stroke="#707070" stroke-width="0.85"/>
<line x1="330.75" y1="654.25" x2="330.75" y2="667.25" stroke="#141414" stroke-width="0.85"/>
<line x1="329.45" y1="641.25" x2="332.05" y2="641.25" stroke="#707070" stroke-width="0.85"/>
<line x1="329.45" y1="667.25" x2="332.05" y2="667.25" stroke="#141414" stroke-width="0.85"/>
<rect x="350.9" y="732" width="10" height="8" fill="#9c9c9c" stroke="#6a6a6a" stroke-width="0.6"/>
<rect x="360.9" y="664.25" width="10" height="75.75" fill="#323232" stroke="#151515" stroke-width="0.6"/>
<line x1="355.9" y1="730" x2="355.9" y2="732" stroke="#444" stroke-width="0.85"/>
<line x1="355.9" y1="732" x2="355.9" y2="734" stroke="#474747" stroke-width="0.85"/>
<line x1="354.6" y1="730" x2="357.2" y2="730" stroke="#444" stroke-width="0.85"/>
<line x1="354.6" y1="734" x2="357.2" y2="734" stroke="#474747" stroke-width="0.85"/>
<line x1="365.9" y1="650" x2="365.9" y2="664.25" stroke="#707070" stroke-width="0.85"/>
<line x1="365.9" y1="664.25" x2="365.9" y2="678.5" stroke="#141414" stroke-width="0.85"/>
<line x1="364.6" y1="650" x2="367.2" y2="650" stroke="#707070" stroke-width="0.85"/>
<line x1="364.6" y1="678.5" x2="367.2" y2="678.5" stroke="#141414" stroke-width="0.85"/>
<rect x="386.2" y="727.2" width="10" height="12.8" fill="#9c9c9c" stroke="#6a6a6a" stroke-width="0.6"/>
<rect x="396.2" y="649.3" width="10" height="90.7" fill="#323232" stroke="#151515" stroke-width="0.6"/>
<line x1="391.2" y1="724.9" x2="391.2" y2="727.2" stroke="#444" stroke-width="0.85"/>
<line x1="391.2" y1="727.2" x2="391.2" y2="729.5" stroke="#474747" stroke-width="0.85"/>
<line x1="389.9" y1="724.9" x2="392.5" y2="724.9" stroke="#444" stroke-width="0.85"/>
<line x1="389.9" y1="729.5" x2="392.5" y2="729.5" stroke="#474747" stroke-width="0.85"/>
<line x1="401.2" y1="638.5" x2="401.2" y2="649.3" stroke="#707070" stroke-width="0.85"/>
<line x1="401.2" y1="649.3" x2="401.2" y2="660.1" stroke="#141414" stroke-width="0.85"/>
<line x1="399.9" y1="638.5" x2="402.5" y2="638.5" stroke="#707070" stroke-width="0.85"/>
<line x1="399.9" y1="660.1" x2="402.5" y2="660.1" stroke="#141414" stroke-width="0.85"/>
<rect x="421.2" y="735" width="10" height="5" fill="#9c9c9c" stroke="#6a6a6a" stroke-width="0.6"/>
<rect x="431.2" y="656" width="10" height="84" fill="#323232" stroke="#151515" stroke-width="0.6"/>
<line x1="426.2" y1="733" x2="426.2" y2="735" stroke="#444" stroke-width="0.85"/>
<line x1="426.2" y1="735" x2="426.2" y2="737" stroke="#474747" stroke-width="0.85"/>
<line x1="424.9" y1="733" x2="427.5" y2="733" stroke="#444" stroke-width="0.85"/>
<line x1="424.9" y1="737" x2="427.5" y2="737" stroke="#474747" stroke-width="0.85"/>
<line x1="436.2" y1="647.9" x2="436.2" y2="656" stroke="#707070" stroke-width="0.85"/>
<line x1="436.2" y1="656" x2="436.2" y2="664.1" stroke="#141414" stroke-width="0.85"/>
<line x1="434.9" y1="647.9" x2="437.5" y2="647.9" stroke="#707070" stroke-width="0.85"/>
<line x1="434.9" y1="664.1" x2="437.5" y2="664.1" stroke="#141414" stroke-width="0.85"/>
<rect x="455.6" y="735.2" width="10" height="4.8" fill="#9c9c9c" stroke="#6a6a6a" stroke-width="0.6"/>
<rect x="465.6" y="664.6" width="10" height="75.4" fill="#323232" stroke="#151515" stroke-width="0.6"/>
<line x1="460.6" y1="733.7" x2="460.6" y2="735.2" stroke="#444" stroke-width="0.85"/>
<line x1="460.6" y1="735.2" x2="460.6" y2="736.7" stroke="#474747" stroke-width="0.85"/>
<line x1="459.3" y1="733.7" x2="461.9" y2="733.7" stroke="#444" stroke-width="0.85"/>
<line x1="459.3" y1="736.7" x2="461.9" y2="736.7" stroke="#474747" stroke-width="0.85"/>
<line x1="470.6" y1="653" x2="470.6" y2="664.6" stroke="#707070" stroke-width="0.85"/>
<line x1="470.6" y1="664.6" x2="470.6" y2="676.2" stroke="#141414" stroke-width="0.85"/>
<line x1="469.3" y1="653" x2="471.9" y2="653" stroke="#707070" stroke-width="0.85"/>
<line x1="469.3" y1="676.2" x2="471.9" y2="676.2" stroke="#141414" stroke-width="0.85"/>
<rect x="490.8" y="733.6" width="10" height="6.4" fill="#9c9c9c" stroke="#6a6a6a" stroke-width="0.6"/>
<rect x="500.8" y="654.3" width="10" height="85.7" fill="#323232" stroke="#151515" stroke-width="0.6"/>
<line x1="495.8" y1="731.6" x2="495.8" y2="733.6" stroke="#444" stroke-width="0.85"/>
<line x1="495.8" y1="733.6" x2="495.8" y2="735.6" stroke="#474747" stroke-width="0.85"/>
<line x1="494.5" y1="731.6" x2="497.1" y2="731.6" stroke="#444" stroke-width="0.85"/>
<line x1="494.5" y1="735.6" x2="497.1" y2="735.6" stroke="#474747" stroke-width="0.85"/>
<line x1="505.8" y1="641" x2="505.8" y2="654.3" stroke="#707070" stroke-width="0.85"/>
<line x1="505.8" y1="654.3" x2="505.8" y2="667.6" stroke="#141414" stroke-width="0.85"/>
<line x1="504.5" y1="641" x2="507.1" y2="641" stroke="#707070" stroke-width="0.85"/>
<line x1="504.5" y1="667.6" x2="507.1" y2="667.6" stroke="#141414" stroke-width="0.85"/>
<g fill="#000"><path d="M331.53 633.5 L332.23 631.12 L330.27 631.12 L330.97 633.5 Z"/><circle cx="331.25" cy="630.75" r="1.05"/><path d="M331.34 633.77 L333.82 633.69 L333.21 631.84 L331.16 633.23 Z"/><circle cx="333.87" cy="632.65" r="1.05"/><path d="M331.02 633.66 L331.86 636 L333.44 634.85 L331.48 633.34 Z"/><circle cx="332.87" cy="635.72" r="1.05"/><path d="M331.02 633.34 L329.06 634.85 L330.64 636 L331.48 633.66 Z"/><circle cx="329.63" cy="635.72" r="1.05"/><path d="M331.34 633.23 L329.29 631.84 L328.68 633.69 L331.16 633.77 Z"/><circle cx="328.63" cy="632.65" r="1.05"/></g>
<g fill="#000"><path d="M365.28 633.5 L365.98 631.12 L364.02 631.12 L364.72 633.5 Z"/><circle cx="365" cy="630.75" r="1.05"/><path d="M365.09 633.77 L367.57 633.69 L366.96 631.84 L364.91 633.23 Z"/><circle cx="367.62" cy="632.65" r="1.05"/><path d="M364.77 633.66 L365.61 636 L367.19 634.85 L365.23 633.34 Z"/><circle cx="366.62" cy="635.72" r="1.05"/><path d="M364.77 633.34 L362.81 634.85 L364.39 636 L365.23 633.66 Z"/><circle cx="363.38" cy="635.72" r="1.05"/><path d="M365.09 633.23 L363.04 631.84 L362.43 633.69 L364.91 633.77 Z"/><circle cx="362.38" cy="632.65" r="1.05"/></g>
<g fill="#000"><path d="M393.78 633.5 L394.48 631.12 L392.52 631.12 L393.22 633.5 Z"/><circle cx="393.5" cy="630.75" r="1.05"/><path d="M393.59 633.77 L396.07 633.69 L395.46 631.84 L393.41 633.23 Z"/><circle cx="396.12" cy="632.65" r="1.05"/><path d="M393.27 633.66 L394.11 636 L395.69 634.85 L393.73 633.34 Z"/><circle cx="395.12" cy="635.72" r="1.05"/><path d="M393.27 633.34 L391.31 634.85 L392.89 636 L393.73 633.66 Z"/><circle cx="391.88" cy="635.72" r="1.05"/><path d="M393.59 633.23 L391.54 631.84 L390.93 633.69 L393.41 633.77 Z"/><circle cx="390.88" cy="632.65" r="1.05"/></g>
<g fill="#000"><path d="M436.78 633.5 L437.48 631.12 L435.52 631.12 L436.22 633.5 Z"/><circle cx="436.5" cy="630.75" r="1.05"/><path d="M436.59 633.77 L439.07 633.69 L438.46 631.84 L436.41 633.23 Z"/><circle cx="439.12" cy="632.65" r="1.05"/><path d="M436.27 633.66 L437.11 636 L438.69 634.85 L436.73 633.34 Z"/><circle cx="438.12" cy="635.72" r="1.05"/><path d="M436.27 633.34 L434.31 634.85 L435.89 636 L436.73 633.66 Z"/><circle cx="434.88" cy="635.72" r="1.05"/><path d="M436.59 633.23 L434.54 631.84 L433.93 633.69 L436.41 633.77 Z"/><circle cx="433.88" cy="632.65" r="1.05"/></g>
<g fill="#000"><path d="M471.28 633.5 L471.98 631.12 L470.02 631.12 L470.72 633.5 Z"/><circle cx="471" cy="630.75" r="1.05"/><path d="M471.09 633.77 L473.57 633.69 L472.96 631.84 L470.91 633.23 Z"/><circle cx="473.62" cy="632.65" r="1.05"/><path d="M470.77 633.66 L471.61 636 L473.19 634.85 L471.23 633.34 Z"/><circle cx="472.62" cy="635.72" r="1.05"/><path d="M470.77 633.34 L468.81 634.85 L470.39 636 L471.23 633.66 Z"/><circle cx="469.38" cy="635.72" r="1.05"/><path d="M471.09 633.23 L469.04 631.84 L468.43 633.69 L470.91 633.77 Z"/><circle cx="468.38" cy="632.65" r="1.05"/></g>
<g fill="#000"><path d="M504.68 633.5 L505.38 631.12 L503.42 631.12 L504.12 633.5 Z"/><circle cx="504.4" cy="630.75" r="1.05"/><path d="M504.49 633.77 L506.97 633.69 L506.36 631.84 L504.31 633.23 Z"/><circle cx="507.02" cy="632.65" r="1.05"/><path d="M504.17 633.66 L505.01 636 L506.59 634.85 L504.63 633.34 Z"/><circle cx="506.02" cy="635.72" r="1.05"/><path d="M504.17 633.34 L502.21 634.85 L503.79 636 L504.63 633.66 Z"/><circle cx="502.78" cy="635.72" r="1.05"/><path d="M504.49 633.23 L502.44 631.84 L501.83 633.69 L504.31 633.77 Z"/><circle cx="501.78" cy="632.65" r="1.05"/></g>
<text x="331.25" y="619.3" font-family='"Liberation Serif", serif' font-size="11.4" font-weight="bold" text-anchor="start" fill="#000" textLength="67" lengthAdjust="spacingAndGlyphs">CD4+/CD44lo</text>
<text x="431.7" y="620" font-family='"Liberation Serif", serif' font-size="11.4" font-weight="bold" text-anchor="start" fill="#000" textLength="67.6" lengthAdjust="spacingAndGlyphs">CD8+/CD44lo</text>
<text x="329.1" y="758.7" font-family='"Liberation Serif", serif' font-size="11" font-weight="bold" text-anchor="middle" fill="#000">Spl</text>
<text x="362.75" y="758.7" font-family='"Liberation Serif", serif' font-size="11" font-weight="bold" text-anchor="middle" fill="#000">LN</text>
<text x="399.9" y="758.7" font-family='"Liberation Serif", serif' font-size="11" font-weight="bold" text-anchor="middle" fill="#000">PBL</text>
<text x="430.2" y="758.7" font-family='"Liberation Serif", serif' font-size="11" font-weight="bold" text-anchor="middle" fill="#000">Spl</text>
<text x="464.1" y="758.7" font-family='"Liberation Serif", serif' font-size="11" font-weight="bold" text-anchor="middle" fill="#000">LN</text>
<text x="501.4" y="758.7" font-family='"Liberation Serif", serif' font-size="11" font-weight="bold" text-anchor="middle" fill="#000">PBL</text>
<text transform="translate(289.07 683.9) rotate(-90)" x="0" y="0" font-family='"Liberation Serif", serif' font-size="10.2" font-weight="bold" text-anchor="middle" fill="#000" textLength="37" lengthAdjust="spacingAndGlyphs">%Ki67+</text>
<line x1="416.9" y1="615.6" x2="416.9" y2="764" stroke="#000" stroke-width="1.8"/>
<line x1="55" y1="781.6" x2="55" y2="907.5" stroke="#a8a8a8" stroke-width="1.1"/>
<line x1="53.2" y1="907.5" x2="55" y2="907.5" stroke="#a8a8a8" stroke-width="0.8"/>
<text x="50.4" y="910.02" font-family='"Liberation Sans", sans-serif' font-size="7" font-weight="normal" text-anchor="end" fill="#2a2a2a" textLength="3.35" lengthAdjust="spacingAndGlyphs" stroke="#2a2a2a" stroke-width="0.25">0</text>
<line x1="53.2" y1="891.76" x2="55" y2="891.76" stroke="#a8a8a8" stroke-width="0.8"/>
<text x="50.4" y="894.28" font-family='"Liberation Sans", sans-serif' font-size="7" font-weight="normal" text-anchor="end" fill="#2a2a2a" textLength="10.04" lengthAdjust="spacingAndGlyphs" stroke="#2a2a2a" stroke-width="0.25">100</text>
<line x1="53.2" y1="876.02" x2="55" y2="876.02" stroke="#a8a8a8" stroke-width="0.8"/>
<text x="50.4" y="878.54" font-family='"Liberation Sans", sans-serif' font-size="7" font-weight="normal" text-anchor="end" fill="#2a2a2a" textLength="10.04" lengthAdjust="spacingAndGlyphs" stroke="#2a2a2a" stroke-width="0.25">200</text>
<line x1="53.2" y1="860.29" x2="55" y2="860.29" stroke="#a8a8a8" stroke-width="0.8"/>
<text x="50.4" y="862.81" font-family='"Liberation Sans", sans-serif' font-size="7" font-weight="normal" text-anchor="end" fill="#2a2a2a" textLength="10.04" lengthAdjust="spacingAndGlyphs" stroke="#2a2a2a" stroke-width="0.25">300</text>
<line x1="53.2" y1="844.55" x2="55" y2="844.55" stroke="#a8a8a8" stroke-width="0.8"/>
<text x="50.4" y="847.07" font-family='"Liberation Sans", sans-serif' font-size="7" font-weight="normal" text-anchor="end" fill="#2a2a2a" textLength="10.04" lengthAdjust="spacingAndGlyphs" stroke="#2a2a2a" stroke-width="0.25">400</text>
<line x1="53.2" y1="828.81" x2="55" y2="828.81" stroke="#a8a8a8" stroke-width="0.8"/>
<text x="50.4" y="831.33" font-family='"Liberation Sans", sans-serif' font-size="7" font-weight="normal" text-anchor="end" fill="#2a2a2a" textLength="10.04" lengthAdjust="spacingAndGlyphs" stroke="#2a2a2a" stroke-width="0.25">500</text>
<line x1="53.2" y1="813.08" x2="55" y2="813.08" stroke="#a8a8a8" stroke-width="0.8"/>
<text x="50.4" y="815.6" font-family='"Liberation Sans", sans-serif' font-size="7" font-weight="normal" text-anchor="end" fill="#2a2a2a" textLength="10.04" lengthAdjust="spacingAndGlyphs" stroke="#2a2a2a" stroke-width="0.25">600</text>
<line x1="53.2" y1="797.34" x2="55" y2="797.34" stroke="#a8a8a8" stroke-width="0.8"/>
<text x="50.4" y="799.86" font-family='"Liberation Sans", sans-serif' font-size="7" font-weight="normal" text-anchor="end" fill="#2a2a2a" textLength="10.04" lengthAdjust="spacingAndGlyphs" stroke="#2a2a2a" stroke-width="0.25">700</text>
<line x1="53.2" y1="781.6" x2="55" y2="781.6" stroke="#a8a8a8" stroke-width="0.8"/>
<text x="50.4" y="784.12" font-family='"Liberation Sans", sans-serif' font-size="7" font-weight="normal" text-anchor="end" fill="#2a2a2a" textLength="10.04" lengthAdjust="spacingAndGlyphs" stroke="#2a2a2a" stroke-width="0.25">800</text>
<line x1="55" y1="781.6" x2="253.7" y2="781.6" stroke="#c4c4c4" stroke-width="1.3"/>
<line x1="253.7" y1="781.6" x2="253.7" y2="907.5" stroke="#c4c4c4" stroke-width="1.3"/>
<line x1="55" y1="907.5" x2="253.7" y2="907.5" stroke="#a8a8a8" stroke-width="1"/>
<rect x="69.1" y="879.9" width="19" height="27.6" fill="#9c9c9c" stroke="#6a6a6a" stroke-width="0.6"/>
<rect x="88.1" y="901.2" width="19" height="6.3" fill="#323232" stroke="#151515" stroke-width="0.6"/>
<line x1="78.6" y1="874.6" x2="78.6" y2="879.9" stroke="#444" stroke-width="0.85"/>
<line x1="78.6" y1="879.9" x2="78.6" y2="885.2" stroke="#474747" stroke-width="0.85"/>
<line x1="77.3" y1="874.6" x2="79.9" y2="874.6" stroke="#444" stroke-width="0.85"/>
<line x1="77.3" y1="885.2" x2="79.9" y2="885.2" stroke="#474747" stroke-width="0.85"/>
<line x1="97.6" y1="898.8" x2="97.6" y2="901.2" stroke="#707070" stroke-width="0.85"/>
<line x1="97.6" y1="901.2" x2="97.6" y2="903.6" stroke="#141414" stroke-width="0.85"/>
<line x1="96.3" y1="898.8" x2="98.9" y2="898.8" stroke="#707070" stroke-width="0.85"/>
<line x1="96.3" y1="903.6" x2="98.9" y2="903.6" stroke="#141414" stroke-width="0.85"/>
<rect x="135.3" y="813.8" width="19" height="93.7" fill="#9c9c9c" stroke="#6a6a6a" stroke-width="0.6"/>
<rect x="154.3" y="835.5" width="19" height="72" fill="#323232" stroke="#151515" stroke-width="0.6"/>
<line x1="144.8" y1="801.2" x2="144.8" y2="813.8" stroke="#444" stroke-width="0.85"/>
<line x1="144.8" y1="813.8" x2="144.8" y2="826.4" stroke="#474747" stroke-width="0.85"/>
<line x1="143.5" y1="801.2" x2="146.1" y2="801.2" stroke="#444" stroke-width="0.85"/>
<line x1="143.5" y1="826.4" x2="146.1" y2="826.4" stroke="#474747" stroke-width="0.85"/>
<line x1="163.8" y1="819.9" x2="163.8" y2="835.5" stroke="#707070" stroke-width="0.85"/>
<line x1="163.8" y1="835.5" x2="163.8" y2="851.1" stroke="#141414" stroke-width="0.85"/>
<line x1="162.5" y1="819.9" x2="165.1" y2="819.9" stroke="#707070" stroke-width="0.85"/>
<line x1="162.5" y1="851.1" x2="165.1" y2="851.1" stroke="#141414" stroke-width="0.85"/>
<rect x="201.7" y="868.8" width="19" height="38.7" fill="#9c9c9c" stroke="#6a6a6a" stroke-width="0.6"/>
<rect x="220.7" y="897.8" width="19" height="9.7" fill="#323232" stroke="#151515" stroke-width="0.6"/>
<line x1="211.2" y1="857.8" x2="211.2" y2="868.8" stroke="#444" stroke-width="0.85"/>
<line x1="211.2" y1="868.8" x2="211.2" y2="879.8" stroke="#474747" stroke-width="0.85"/>
<line x1="209.9" y1="857.8" x2="212.5" y2="857.8" stroke="#444" stroke-width="0.85"/>
<line x1="209.9" y1="879.8" x2="212.5" y2="879.8" stroke="#474747" stroke-width="0.85"/>
<line x1="230.2" y1="893.3" x2="230.2" y2="897.8" stroke="#707070" stroke-width="0.85"/>
<line x1="230.2" y1="897.8" x2="230.2" y2="902.3" stroke="#141414" stroke-width="0.85"/>
<line x1="228.9" y1="893.3" x2="231.5" y2="893.3" stroke="#707070" stroke-width="0.85"/>
<line x1="228.9" y1="902.3" x2="231.5" y2="902.3" stroke="#141414" stroke-width="0.85"/>
<g fill="#000"><path d="M79.68 850.3 L80.38 847.92 L78.42 847.92 L79.12 850.3 Z"/><circle cx="79.4" cy="847.55" r="1.05"/><path d="M79.49 850.57 L81.97 850.49 L81.36 848.64 L79.31 850.03 Z"/><circle cx="82.02" cy="849.45" r="1.05"/><path d="M79.17 850.46 L80.01 852.8 L81.59 851.65 L79.63 850.14 Z"/><circle cx="81.02" cy="852.52" r="1.05"/><path d="M79.17 850.14 L77.21 851.65 L78.79 852.8 L79.63 850.46 Z"/><circle cx="77.78" cy="852.52" r="1.05"/><path d="M79.49 850.03 L77.44 848.64 L76.83 850.49 L79.31 850.57 Z"/><circle cx="76.78" cy="849.45" r="1.05"/></g>
<g fill="#000"><path d="M156.88 797.7 L157.58 795.32 L155.62 795.32 L156.32 797.7 Z"/><circle cx="156.6" cy="794.95" r="1.05"/><path d="M156.69 797.97 L159.17 797.89 L158.56 796.04 L156.51 797.43 Z"/><circle cx="159.22" cy="796.85" r="1.05"/><path d="M156.37 797.86 L157.21 800.2 L158.79 799.05 L156.83 797.54 Z"/><circle cx="158.22" cy="799.92" r="1.05"/><path d="M156.37 797.54 L154.41 799.05 L155.99 800.2 L156.83 797.86 Z"/><circle cx="154.98" cy="799.92" r="1.05"/><path d="M156.69 797.43 L154.64 796.04 L154.03 797.89 L156.51 797.97 Z"/><circle cx="153.98" cy="796.85" r="1.05"/></g>
<g fill="#000"><path d="M224.78 855.7 L225.48 853.32 L223.52 853.32 L224.22 855.7 Z"/><circle cx="224.5" cy="852.95" r="1.05"/><path d="M224.59 855.97 L227.07 855.89 L226.46 854.04 L224.41 855.43 Z"/><circle cx="227.12" cy="854.85" r="1.05"/><path d="M224.27 855.86 L225.11 858.2 L226.69 857.05 L224.73 855.54 Z"/><circle cx="226.12" cy="857.92" r="1.05"/><path d="M224.27 855.54 L222.31 857.05 L223.89 858.2 L224.73 855.86 Z"/><circle cx="222.88" cy="857.92" r="1.05"/><path d="M224.59 855.43 L222.54 854.04 L221.93 855.89 L224.41 855.97 Z"/><circle cx="221.88" cy="854.85" r="1.05"/></g>
<text x="82.65" y="924" font-family='"Liberation Serif", serif' font-size="11" font-weight="bold" text-anchor="middle" fill="#000">Spl</text>
<text x="150.65" y="924" font-family='"Liberation Serif", serif' font-size="11" font-weight="bold" text-anchor="middle" fill="#000">LN</text>
<text x="216.4" y="924" font-family='"Liberation Serif", serif' font-size="11" font-weight="bold" text-anchor="middle" fill="#000">PBL</text>
<text transform="translate(8.1 850.6) rotate(-90)" x="0" y="0" font-family='"Liberation Serif", serif' font-size="9.4" font-weight="bold" text-anchor="middle" fill="#000" textLength="102" lengthAdjust="spacingAndGlyphs">Organ TREC Frequency</text>
<text transform="translate(20.7 851) rotate(-90)" x="0" y="0" font-family='"Liberation Serif", serif' font-size="9.4" font-weight="bold" text-anchor="middle" fill="#000" textLength="85.3" lengthAdjust="spacingAndGlyphs">(TREC//50000 Cells)</text>
<line x1="306" y1="781.8" x2="306" y2="907.2" stroke="#a8a8a8" stroke-width="1.1"/>
<line x1="304.2" y1="907.2" x2="306" y2="907.2" stroke="#a8a8a8" stroke-width="0.8"/>
<text x="300.9" y="909.86" font-family='"Liberation Sans", sans-serif' font-size="7.4" font-weight="normal" text-anchor="end" fill="#2a2a2a" textLength="8.85" lengthAdjust="spacingAndGlyphs" stroke="#2a2a2a" stroke-width="0.25">0.0</text>
<line x1="304.2" y1="886.3" x2="306" y2="886.3" stroke="#a8a8a8" stroke-width="0.8"/>
<text x="300.9" y="888.96" font-family='"Liberation Sans", sans-serif' font-size="7.4" font-weight="normal" text-anchor="end" fill="#2a2a2a" textLength="8.85" lengthAdjust="spacingAndGlyphs" stroke="#2a2a2a" stroke-width="0.25">1.0</text>
<line x1="304.2" y1="865.4" x2="306" y2="865.4" stroke="#a8a8a8" stroke-width="0.8"/>
<text x="300.9" y="868.06" font-family='"Liberation Sans", sans-serif' font-size="7.4" font-weight="normal" text-anchor="end" fill="#2a2a2a" textLength="8.85" lengthAdjust="spacingAndGlyphs" stroke="#2a2a2a" stroke-width="0.25">2.0</text>
<line x1="304.2" y1="844.5" x2="306" y2="844.5" stroke="#a8a8a8" stroke-width="0.8"/>
<text x="300.9" y="847.16" font-family='"Liberation Sans", sans-serif' font-size="7.4" font-weight="normal" text-anchor="end" fill="#2a2a2a" textLength="8.85" lengthAdjust="spacingAndGlyphs" stroke="#2a2a2a" stroke-width="0.25">3.0</text>
<line x1="304.2" y1="823.6" x2="306" y2="823.6" stroke="#a8a8a8" stroke-width="0.8"/>
<text x="300.9" y="826.26" font-family='"Liberation Sans", sans-serif' font-size="7.4" font-weight="normal" text-anchor="end" fill="#2a2a2a" textLength="8.85" lengthAdjust="spacingAndGlyphs" stroke="#2a2a2a" stroke-width="0.25">4.0</text>
<line x1="304.2" y1="802.7" x2="306" y2="802.7" stroke="#a8a8a8" stroke-width="0.8"/>
<text x="300.9" y="805.36" font-family='"Liberation Sans", sans-serif' font-size="7.4" font-weight="normal" text-anchor="end" fill="#2a2a2a" textLength="8.85" lengthAdjust="spacingAndGlyphs" stroke="#2a2a2a" stroke-width="0.25">5.0</text>
<line x1="304.2" y1="781.8" x2="306" y2="781.8" stroke="#a8a8a8" stroke-width="0.8"/>
<text x="300.9" y="784.46" font-family='"Liberation Sans", sans-serif' font-size="7.4" font-weight="normal" text-anchor="end" fill="#2a2a2a" textLength="8.85" lengthAdjust="spacingAndGlyphs" stroke="#2a2a2a" stroke-width="0.25">6.0</text>
<line x1="306" y1="781.8" x2="518.3" y2="781.8" stroke="#c4c4c4" stroke-width="1.3"/>
<line x1="518.3" y1="781.8" x2="518.3" y2="907.2" stroke="#c4c4c4" stroke-width="1.3"/>
<line x1="306" y1="907.2" x2="518.3" y2="907.2" stroke="#a8a8a8" stroke-width="1"/>
<rect x="321.1" y="864.25" width="20.2" height="42.95" fill="#9c9c9c" stroke="#6a6a6a" stroke-width="0.6"/>
<rect x="341.3" y="843.25" width="20.2" height="63.95" fill="#323232" stroke="#151515" stroke-width="0.6"/>
<line x1="331.2" y1="855.85" x2="331.2" y2="864.25" stroke="#444" stroke-width="0.85"/>
<line x1="331.2" y1="864.25" x2="331.2" y2="872.65" stroke="#474747" stroke-width="0.85"/>
<line x1="329.9" y1="855.85" x2="332.5" y2="855.85" stroke="#444" stroke-width="0.85"/>
<line x1="329.9" y1="872.65" x2="332.5" y2="872.65" stroke="#474747" stroke-width="0.85"/>
<line x1="351.4" y1="819.25" x2="351.4" y2="843.25" stroke="#707070" stroke-width="0.85"/>
<line x1="351.4" y1="843.25" x2="351.4" y2="867.25" stroke="#141414" stroke-width="0.85"/>
<line x1="350.1" y1="819.25" x2="352.7" y2="819.25" stroke="#707070" stroke-width="0.85"/>
<line x1="350.1" y1="867.25" x2="352.7" y2="867.25" stroke="#141414" stroke-width="0.85"/>
<rect x="391.9" y="862" width="20.2" height="45.2" fill="#9c9c9c" stroke="#6a6a6a" stroke-width="0.6"/>
<rect x="412.1" y="807" width="20.2" height="100.2" fill="#323232" stroke="#151515" stroke-width="0.6"/>
<line x1="402" y1="846" x2="402" y2="862" stroke="#444" stroke-width="0.85"/>
<line x1="402" y1="862" x2="402" y2="878" stroke="#474747" stroke-width="0.85"/>
<line x1="400.7" y1="846" x2="403.3" y2="846" stroke="#444" stroke-width="0.85"/>
<line x1="400.7" y1="878" x2="403.3" y2="878" stroke="#474747" stroke-width="0.85"/>
<line x1="422.2" y1="791.2" x2="422.2" y2="807" stroke="#707070" stroke-width="0.85"/>
<line x1="422.2" y1="807" x2="422.2" y2="822.8" stroke="#141414" stroke-width="0.85"/>
<line x1="420.9" y1="791.2" x2="423.5" y2="791.2" stroke="#707070" stroke-width="0.85"/>
<line x1="420.9" y1="822.8" x2="423.5" y2="822.8" stroke="#141414" stroke-width="0.85"/>
<rect x="462.8" y="902.6" width="20.2" height="4.6" fill="#9c9c9c" stroke="#6a6a6a" stroke-width="0.6"/>
<rect x="483" y="900.5" width="20.2" height="6.7" fill="#323232" stroke="#151515" stroke-width="0.6"/>
<line x1="472.9" y1="902.1" x2="472.9" y2="902.6" stroke="#444" stroke-width="0.85"/>
<line x1="472.9" y1="902.6" x2="472.9" y2="903.1" stroke="#474747" stroke-width="0.85"/>
<line x1="471.6" y1="902.1" x2="474.2" y2="902.1" stroke="#444" stroke-width="0.85"/>
<line x1="471.6" y1="903.1" x2="474.2" y2="903.1" stroke="#474747" stroke-width="0.85"/>
<line x1="493.1" y1="899" x2="493.1" y2="900.5" stroke="#707070" stroke-width="0.85"/>
<line x1="493.1" y1="900.5" x2="493.1" y2="902" stroke="#141414" stroke-width="0.85"/>
<line x1="491.8" y1="899" x2="494.4" y2="899" stroke="#707070" stroke-width="0.85"/>
<line x1="491.8" y1="902" x2="494.4" y2="902" stroke="#141414" stroke-width="0.85"/>
<path d="M353.25 799.2 L353.25 798.9 Q353.25 794.4 357.75 794.4 L417.5 794.4 Q422 794.4 422 798.9 L422 805" fill="none" stroke="#444444" stroke-width="1.2"/>
<path d="M397 803.75 L397 803.25 Q397 798.75 401.5 798.75 L417.5 798.75 Q422 798.75 422 803.25 L422 805" fill="none" stroke="#444444" stroke-width="1.2"/>
<g fill="#000"><path d="M340.28 816.25 L340.98 813.87 L339.02 813.87 L339.72 816.25 Z"/><circle cx="340" cy="813.5" r="1.05"/><path d="M340.09 816.52 L342.57 816.44 L341.96 814.59 L339.91 815.98 Z"/><circle cx="342.62" cy="815.4" r="1.05"/><path d="M339.77 816.41 L340.61 818.75 L342.19 817.6 L340.23 816.09 Z"/><circle cx="341.62" cy="818.47" r="1.05"/><path d="M339.77 816.09 L337.81 817.6 L339.39 818.75 L340.23 816.41 Z"/><circle cx="338.38" cy="818.47" r="1.05"/><path d="M340.09 815.98 L338.04 814.59 L337.43 816.44 L339.91 816.52 Z"/><circle cx="337.38" cy="815.4" r="1.05"/></g>
<g fill="#000"><path d="M389.03 787.5 L389.73 785.12 L387.77 785.12 L388.47 787.5 Z"/><circle cx="388.75" cy="784.75" r="1.05"/><path d="M388.84 787.77 L391.32 787.69 L390.71 785.84 L388.66 787.23 Z"/><circle cx="391.37" cy="786.65" r="1.05"/><path d="M388.52 787.66 L389.36 790 L390.94 788.85 L388.98 787.34 Z"/><circle cx="390.37" cy="789.72" r="1.05"/><path d="M388.52 787.34 L386.56 788.85 L388.14 790 L388.98 787.66 Z"/><circle cx="387.13" cy="789.72" r="1.05"/><path d="M388.84 787.23 L386.79 785.84 L386.18 787.69 L388.66 787.77 Z"/><circle cx="386.13" cy="786.65" r="1.05"/></g>
<text x="343.1" y="923.9" font-family='"Liberation Serif", serif' font-size="11" font-weight="bold" text-anchor="middle" fill="#000">Spl</text>
<text x="411.25" y="923.9" font-family='"Liberation Serif", serif' font-size="11" font-weight="bold" text-anchor="middle" fill="#000">LN</text>
<text x="482.15" y="923.9" font-family='"Liberation Serif", serif' font-size="11" font-weight="bold" text-anchor="middle" fill="#000">PBL</text>
<text transform="translate(284.38 843.7) rotate(-90)" x="0" y="0" font-family='"Liberation Serif", serif' font-size="9.5" font-weight="bold" text-anchor="middle" fill="#000" textLength="107" lengthAdjust="spacingAndGlyphs">Total Organ TREC (x10<tspan font-size="65%" dy="-3.2">5</tspan><tspan dy="3.2">)</tspan></text>
<line x1="44.2" y1="979.8" x2="44.2" y2="1085.9" stroke="#a8a8a8" stroke-width="1.1"/>
<line x1="42.4" y1="1085.9" x2="44.2" y2="1085.9" stroke="#a8a8a8" stroke-width="0.8"/>
<text x="39.1" y="1088.38" font-family='"Liberation Sans", sans-serif' font-size="6.9" font-weight="bold" text-anchor="end" fill="#111" textLength="3.3" lengthAdjust="spacingAndGlyphs" stroke="#111" stroke-width="0.2">0</text>
<line x1="42.4" y1="1064.68" x2="44.2" y2="1064.68" stroke="#a8a8a8" stroke-width="0.8"/>
<text x="39.1" y="1067.16" font-family='"Liberation Sans", sans-serif' font-size="6.9" font-weight="bold" text-anchor="end" fill="#111" textLength="9.9" lengthAdjust="spacingAndGlyphs" stroke="#111" stroke-width="0.2">100</text>
<line x1="42.4" y1="1043.46" x2="44.2" y2="1043.46" stroke="#a8a8a8" stroke-width="0.8"/>
<text x="39.1" y="1045.94" font-family='"Liberation Sans", sans-serif' font-size="6.9" font-weight="bold" text-anchor="end" fill="#111" textLength="9.9" lengthAdjust="spacingAndGlyphs" stroke="#111" stroke-width="0.2">200</text>
<line x1="42.4" y1="1022.24" x2="44.2" y2="1022.24" stroke="#a8a8a8" stroke-width="0.8"/>
<text x="39.1" y="1024.72" font-family='"Liberation Sans", sans-serif' font-size="6.9" font-weight="bold" text-anchor="end" fill="#111" textLength="9.9" lengthAdjust="spacingAndGlyphs" stroke="#111" stroke-width="0.2">300</text>
<line x1="42.4" y1="1001.02" x2="44.2" y2="1001.02" stroke="#a8a8a8" stroke-width="0.8"/>
<text x="39.1" y="1003.5" font-family='"Liberation Sans", sans-serif' font-size="6.9" font-weight="bold" text-anchor="end" fill="#111" textLength="9.9" lengthAdjust="spacingAndGlyphs" stroke="#111" stroke-width="0.2">400</text>
<line x1="42.4" y1="979.8" x2="44.2" y2="979.8" stroke="#a8a8a8" stroke-width="0.8"/>
<text x="39.1" y="982.28" font-family='"Liberation Sans", sans-serif' font-size="6.9" font-weight="bold" text-anchor="end" fill="#111" textLength="9.9" lengthAdjust="spacingAndGlyphs" stroke="#111" stroke-width="0.2">500</text>
<line x1="44.2" y1="979.8" x2="238.8" y2="979.8" stroke="#c4c4c4" stroke-width="1.3"/>
<line x1="238.8" y1="979.8" x2="238.8" y2="1085.9" stroke="#c4c4c4" stroke-width="1.3"/>
<line x1="44.2" y1="1085.9" x2="238.8" y2="1085.9" stroke="#a8a8a8" stroke-width="1"/>
<rect x="58.3" y="1060" width="18.6" height="25.9" fill="#9c9c9c" stroke="#6a6a6a" stroke-width="0.6"/>
<rect x="76.9" y="1074.3" width="18.6" height="11.6" fill="#323232" stroke="#151515" stroke-width="0.6"/>
<line x1="67.6" y1="1056.5" x2="67.6" y2="1060" stroke="#444" stroke-width="0.85"/>
<line x1="67.6" y1="1060" x2="67.6" y2="1063.5" stroke="#474747" stroke-width="0.85"/>
<line x1="66.3" y1="1056.5" x2="68.9" y2="1056.5" stroke="#444" stroke-width="0.85"/>
<line x1="66.3" y1="1063.5" x2="68.9" y2="1063.5" stroke="#474747" stroke-width="0.85"/>
<line x1="86.2" y1="1072" x2="86.2" y2="1074.3" stroke="#707070" stroke-width="0.85"/>
<line x1="86.2" y1="1074.3" x2="86.2" y2="1076.6" stroke="#141414" stroke-width="0.85"/>
<line x1="84.9" y1="1072" x2="87.5" y2="1072" stroke="#707070" stroke-width="0.85"/>
<line x1="84.9" y1="1076.6" x2="87.5" y2="1076.6" stroke="#141414" stroke-width="0.85"/>
<rect x="122.9" y="998.4" width="18.6" height="87.5" fill="#9c9c9c" stroke="#6a6a6a" stroke-width="0.6"/>
<rect x="141.5" y="1019.2" width="18.6" height="66.7" fill="#323232" stroke="#151515" stroke-width="0.6"/>
<line x1="132.2" y1="990.1" x2="132.2" y2="998.4" stroke="#444" stroke-width="0.85"/>
<line x1="132.2" y1="998.4" x2="132.2" y2="1006.7" stroke="#474747" stroke-width="0.85"/>
<line x1="130.9" y1="990.1" x2="133.5" y2="990.1" stroke="#444" stroke-width="0.85"/>
<line x1="130.9" y1="1006.7" x2="133.5" y2="1006.7" stroke="#474747" stroke-width="0.85"/>
<line x1="150.8" y1="1010.9" x2="150.8" y2="1019.2" stroke="#707070" stroke-width="0.85"/>
<line x1="150.8" y1="1019.2" x2="150.8" y2="1027.5" stroke="#141414" stroke-width="0.85"/>
<line x1="149.5" y1="1010.9" x2="152.1" y2="1010.9" stroke="#707070" stroke-width="0.85"/>
<line x1="149.5" y1="1027.5" x2="152.1" y2="1027.5" stroke="#141414" stroke-width="0.85"/>
<rect x="187.6" y="1047.3" width="18.6" height="38.6" fill="#9c9c9c" stroke="#6a6a6a" stroke-width="0.6"/>
<rect x="206.2" y="1082.4" width="18.6" height="3.5" fill="#323232" stroke="#151515" stroke-width="0.6"/>
<line x1="196.9" y1="1042.5" x2="196.9" y2="1047.3" stroke="#444" stroke-width="0.85"/>
<line x1="196.9" y1="1047.3" x2="196.9" y2="1052.1" stroke="#474747" stroke-width="0.85"/>
<line x1="195.6" y1="1042.5" x2="198.2" y2="1042.5" stroke="#444" stroke-width="0.85"/>
<line x1="195.6" y1="1052.1" x2="198.2" y2="1052.1" stroke="#474747" stroke-width="0.85"/>
<line x1="215.5" y1="1081.6" x2="215.5" y2="1082.4" stroke="#707070" stroke-width="0.85"/>
<line x1="215.5" y1="1082.4" x2="215.5" y2="1083.2" stroke="#141414" stroke-width="0.85"/>
<line x1="214.2" y1="1081.6" x2="216.8" y2="1081.6" stroke="#707070" stroke-width="0.85"/>
<line x1="214.2" y1="1083.2" x2="216.8" y2="1083.2" stroke="#141414" stroke-width="0.85"/>
<g fill="#000"><path d="M80.18 1048.9 L80.88 1046.52 L78.92 1046.52 L79.62 1048.9 Z"/><circle cx="79.9" cy="1046.15" r="1.05"/><path d="M79.99 1049.17 L82.47 1049.09 L81.86 1047.24 L79.81 1048.63 Z"/><circle cx="82.52" cy="1048.05" r="1.05"/><path d="M79.67 1049.06 L80.51 1051.4 L82.09 1050.25 L80.13 1048.74 Z"/><circle cx="81.52" cy="1051.12" r="1.05"/><path d="M79.67 1048.74 L77.71 1050.25 L79.29 1051.4 L80.13 1049.06 Z"/><circle cx="78.28" cy="1051.12" r="1.05"/><path d="M79.99 1048.63 L77.94 1047.24 L77.33 1049.09 L79.81 1049.17 Z"/><circle cx="77.28" cy="1048.05" r="1.05"/></g>
<g fill="#000"><path d="M211.78 1034.6 L212.48 1032.22 L210.52 1032.22 L211.22 1034.6 Z"/><circle cx="211.5" cy="1031.85" r="1.05"/><path d="M211.59 1034.87 L214.07 1034.79 L213.46 1032.94 L211.41 1034.33 Z"/><circle cx="214.12" cy="1033.75" r="1.05"/><path d="M211.27 1034.76 L212.11 1037.1 L213.69 1035.95 L211.73 1034.44 Z"/><circle cx="213.12" cy="1036.82" r="1.05"/><path d="M211.27 1034.44 L209.31 1035.95 L210.89 1037.1 L211.73 1034.76 Z"/><circle cx="209.88" cy="1036.82" r="1.05"/><path d="M211.59 1034.33 L209.54 1032.94 L208.93 1034.79 L211.41 1034.87 Z"/><circle cx="208.88" cy="1033.75" r="1.05"/></g>
<text x="73.45" y="1101.6" font-family='"Liberation Serif", serif' font-size="11" font-weight="bold" text-anchor="middle" fill="#000">Spl</text>
<text x="139.25" y="1101.6" font-family='"Liberation Serif", serif' font-size="11" font-weight="bold" text-anchor="middle" fill="#000">LN</text>
<text x="203.7" y="1101.6" font-family='"Liberation Serif", serif' font-size="11" font-weight="bold" text-anchor="middle" fill="#000">PBL</text>
<text transform="translate(6.45 1035) rotate(-90)" x="0" y="0" font-family='"Liberation Serif", serif' font-size="9.4" font-weight="bold" text-anchor="middle" fill="#000" textLength="99" lengthAdjust="spacingAndGlyphs">Organ TREC Frequency</text>
<text transform="translate(17.95 1036.5) rotate(-90)" x="0" y="0" font-family='"Liberation Serif", serif' font-size="9.4" font-weight="bold" text-anchor="middle" fill="#000" textLength="80.4" lengthAdjust="spacingAndGlyphs">(TREC/50000 Cells)</text>
<line x1="300.2" y1="979.2" x2="300.2" y2="1088.4" stroke="#a8a8a8" stroke-width="1.1"/>
<line x1="298.4" y1="1088.4" x2="300.2" y2="1088.4" stroke="#a8a8a8" stroke-width="0.8"/>
<text x="295.6" y="1091.06" font-family='"Liberation Sans", sans-serif' font-size="7.4" font-weight="bold" text-anchor="end" fill="#111" textLength="8.85" lengthAdjust="spacingAndGlyphs" stroke="#111" stroke-width="0.2">0.0</text>
<line x1="298.4" y1="1066.56" x2="300.2" y2="1066.56" stroke="#a8a8a8" stroke-width="0.8"/>
<text x="295.6" y="1069.22" font-family='"Liberation Sans", sans-serif' font-size="7.4" font-weight="bold" text-anchor="end" fill="#111" textLength="8.85" lengthAdjust="spacingAndGlyphs" stroke="#111" stroke-width="0.2">1.0</text>
<line x1="298.4" y1="1044.72" x2="300.2" y2="1044.72" stroke="#a8a8a8" stroke-width="0.8"/>
<text x="295.6" y="1047.38" font-family='"Liberation Sans", sans-serif' font-size="7.4" font-weight="bold" text-anchor="end" fill="#111" textLength="8.85" lengthAdjust="spacingAndGlyphs" stroke="#111" stroke-width="0.2">2.0</text>
<line x1="298.4" y1="1022.88" x2="300.2" y2="1022.88" stroke="#a8a8a8" stroke-width="0.8"/>
<text x="295.6" y="1025.54" font-family='"Liberation Sans", sans-serif' font-size="7.4" font-weight="bold" text-anchor="end" fill="#111" textLength="8.85" lengthAdjust="spacingAndGlyphs" stroke="#111" stroke-width="0.2">3.0</text>
<line x1="298.4" y1="1001.04" x2="300.2" y2="1001.04" stroke="#a8a8a8" stroke-width="0.8"/>
<text x="295.6" y="1003.7" font-family='"Liberation Sans", sans-serif' font-size="7.4" font-weight="bold" text-anchor="end" fill="#111" textLength="8.85" lengthAdjust="spacingAndGlyphs" stroke="#111" stroke-width="0.2">4.0</text>
<line x1="298.4" y1="979.2" x2="300.2" y2="979.2" stroke="#a8a8a8" stroke-width="0.8"/>
<text x="295.6" y="981.86" font-family='"Liberation Sans", sans-serif' font-size="7.4" font-weight="bold" text-anchor="end" fill="#111" textLength="8.85" lengthAdjust="spacingAndGlyphs" stroke="#111" stroke-width="0.2">5.0</text>
<line x1="300.2" y1="979.2" x2="505.7" y2="979.2" stroke="#c4c4c4" stroke-width="1.3"/>
<line x1="505.7" y1="979.2" x2="505.7" y2="1088.4" stroke="#c4c4c4" stroke-width="1.3"/>
<line x1="300.2" y1="1088.4" x2="505.7" y2="1088.4" stroke="#a8a8a8" stroke-width="1"/>
<rect x="315.3" y="1051.9" width="19.8" height="36.5" fill="#9c9c9c" stroke="#6a6a6a" stroke-width="0.6"/>
<rect x="335.1" y="1000" width="19.8" height="88.4" fill="#323232" stroke="#151515" stroke-width="0.6"/>
<line x1="325.2" y1="1047.6" x2="325.2" y2="1051.9" stroke="#444" stroke-width="0.85"/>
<line x1="325.2" y1="1051.9" x2="325.2" y2="1056.2" stroke="#474747" stroke-width="0.85"/>
<line x1="323.9" y1="1047.6" x2="326.5" y2="1047.6" stroke="#444" stroke-width="0.85"/>
<line x1="323.9" y1="1056.2" x2="326.5" y2="1056.2" stroke="#474747" stroke-width="0.85"/>
<line x1="345" y1="984.8" x2="345" y2="1000" stroke="#707070" stroke-width="0.85"/>
<line x1="345" y1="1000" x2="345" y2="1015.2" stroke="#141414" stroke-width="0.85"/>
<line x1="343.7" y1="984.8" x2="346.3" y2="984.8" stroke="#707070" stroke-width="0.85"/>
<line x1="343.7" y1="1015.2" x2="346.3" y2="1015.2" stroke="#141414" stroke-width="0.85"/>
<rect x="383.4" y="1057" width="19.8" height="31.4" fill="#9c9c9c" stroke="#6a6a6a" stroke-width="0.6"/>
<rect x="403.2" y="994" width="19.8" height="94.4" fill="#323232" stroke="#151515" stroke-width="0.6"/>
<line x1="393.3" y1="1052.7" x2="393.3" y2="1057" stroke="#444" stroke-width="0.85"/>
<line x1="393.3" y1="1057" x2="393.3" y2="1061.3" stroke="#474747" stroke-width="0.85"/>
<line x1="392" y1="1052.7" x2="394.6" y2="1052.7" stroke="#444" stroke-width="0.85"/>
<line x1="392" y1="1061.3" x2="394.6" y2="1061.3" stroke="#474747" stroke-width="0.85"/>
<line x1="413.1" y1="992.5" x2="413.1" y2="994" stroke="#707070" stroke-width="0.85"/>
<line x1="413.1" y1="994" x2="413.1" y2="995.5" stroke="#141414" stroke-width="0.85"/>
<line x1="411.8" y1="992.5" x2="414.4" y2="992.5" stroke="#707070" stroke-width="0.85"/>
<line x1="411.8" y1="995.5" x2="414.4" y2="995.5" stroke="#141414" stroke-width="0.85"/>
<rect x="451.7" y="1083.1" width="19.8" height="5.3" fill="#9c9c9c" stroke="#6a6a6a" stroke-width="0.6"/>
<rect x="471.5" y="1087.2" width="19.8" height="1.2" fill="#323232" stroke="#151515" stroke-width="0.6"/>
<g fill="#000"><path d="M338.38 992.6 L339.08 990.22 L337.12 990.22 L337.82 992.6 Z"/><circle cx="338.1" cy="989.85" r="1.05"/><path d="M338.19 992.87 L340.67 992.79 L340.06 990.94 L338.01 992.33 Z"/><circle cx="340.72" cy="991.75" r="1.05"/><path d="M337.87 992.76 L338.71 995.1 L340.29 993.95 L338.33 992.44 Z"/><circle cx="339.72" cy="994.82" r="1.05"/><path d="M337.87 992.44 L335.91 993.95 L337.49 995.1 L338.33 992.76 Z"/><circle cx="336.48" cy="994.82" r="1.05"/><path d="M338.19 992.33 L336.14 990.94 L335.53 992.79 L338.01 992.87 Z"/><circle cx="335.48" cy="991.75" r="1.05"/></g>
<g fill="#000"><path d="M403.68 988.5 L404.38 986.12 L402.42 986.12 L403.12 988.5 Z"/><circle cx="403.4" cy="985.75" r="1.05"/><path d="M403.49 988.77 L405.97 988.69 L405.36 986.84 L403.31 988.23 Z"/><circle cx="406.02" cy="987.65" r="1.05"/><path d="M403.17 988.66 L404.01 991 L405.59 989.85 L403.63 988.34 Z"/><circle cx="405.02" cy="990.72" r="1.05"/><path d="M403.17 988.34 L401.21 989.85 L402.79 991 L403.63 988.66 Z"/><circle cx="401.78" cy="990.72" r="1.05"/><path d="M403.49 988.23 L401.44 986.84 L400.83 988.69 L403.31 988.77 Z"/><circle cx="400.78" cy="987.65" r="1.05"/></g>
<g fill="#000"><path d="M478.78 1067.6 L479.48 1065.22 L477.52 1065.22 L478.22 1067.6 Z"/><circle cx="478.5" cy="1064.85" r="1.05"/><path d="M478.59 1067.87 L481.07 1067.79 L480.46 1065.94 L478.41 1067.33 Z"/><circle cx="481.12" cy="1066.75" r="1.05"/><path d="M478.27 1067.76 L479.11 1070.1 L480.69 1068.95 L478.73 1067.44 Z"/><circle cx="480.12" cy="1069.82" r="1.05"/><path d="M478.27 1067.44 L476.31 1068.95 L477.89 1070.1 L478.73 1067.76 Z"/><circle cx="476.88" cy="1069.82" r="1.05"/><path d="M478.59 1067.33 L476.54 1065.94 L475.93 1067.79 L478.41 1067.87 Z"/><circle cx="475.88" cy="1066.75" r="1.05"/></g>
<text x="336.3" y="1101.6" font-family='"Liberation Serif", serif' font-size="11" font-weight="bold" text-anchor="middle" fill="#000">Spl</text>
<text x="401.75" y="1101.6" font-family='"Liberation Serif", serif' font-size="11" font-weight="bold" text-anchor="middle" fill="#000">LN</text>
<text x="470.75" y="1101.6" font-family='"Liberation Serif", serif' font-size="11" font-weight="bold" text-anchor="middle" fill="#000">PBL</text>
<text transform="translate(279.52 1032.2) rotate(-90)" x="0" y="0" font-family='"Liberation Serif", serif' font-size="9.3" font-weight="bold" text-anchor="middle" fill="#000" textLength="102" lengthAdjust="spacingAndGlyphs">Total Organ TREC (x10<tspan font-size="65%" dy="-3.2">5</tspan><tspan dy="3.2">)</tspan></text>
</svg>
</body></html>
